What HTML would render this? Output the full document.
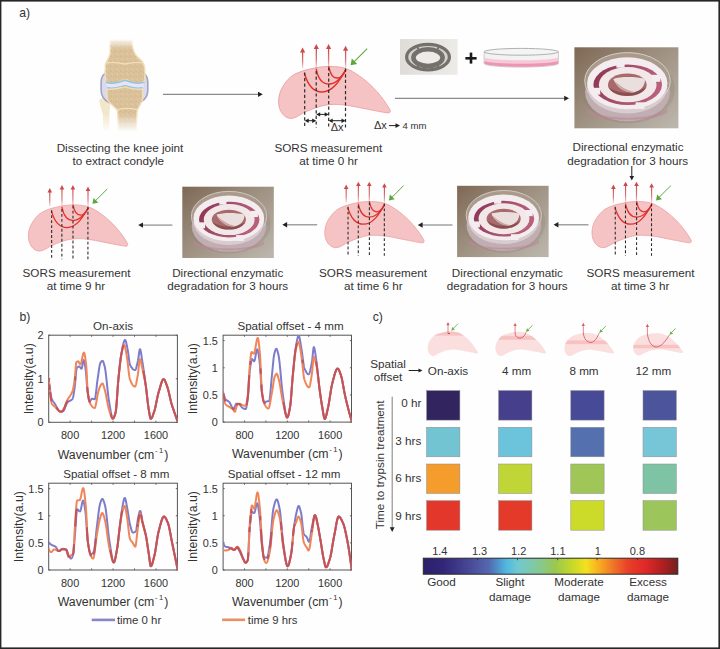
<!DOCTYPE html>
<html><head><meta charset="utf-8"><style>html,body{margin:0;padding:0;background:#fff;width:720px;height:649px;overflow:hidden}</style></head>
<body>
<svg width="720" height="649" viewBox="0 0 720 649" style="position:absolute;left:0;top:0;font-family:'Liberation Sans', sans-serif">
<defs>
<linearGradient id="gshaft" x1="0" y1="0" x2="0" y2="1"><stop offset="0" stop-color="#c84a4c"/><stop offset="0.6" stop-color="#d05a5c" stop-opacity="0.8"/><stop offset="1" stop-color="#d86a6a" stop-opacity="0.25"/></linearGradient>
<linearGradient id="gphoto" x1="0" y1="0" x2="1" y2="0.9"><stop offset="0" stop-color="#7e6854"/><stop offset="0.45" stop-color="#9c8e7e"/><stop offset="1" stop-color="#bab4aa"/></linearGradient>
<linearGradient id="gring" x1="0" y1="0" x2="1" y2="0"><stop offset="0" stop-color="#e0ddd9"/><stop offset="1" stop-color="#ecebe8"/></linearGradient>
<linearGradient id="gcbar" x1="0" y1="0" x2="1" y2="0"><stop offset="0" stop-color="#2c1f6c"/><stop offset="0.08" stop-color="#322678"/><stop offset="0.18" stop-color="#484896"/><stop offset="0.257" stop-color="#5468b0"/><stop offset="0.292" stop-color="#5090c8"/><stop offset="0.326" stop-color="#50b8e0"/><stop offset="0.37" stop-color="#70c8d0"/><stop offset="0.419" stop-color="#7cc8b0"/><stop offset="0.468" stop-color="#8ac888"/><stop offset="0.517" stop-color="#98c850"/><stop offset="0.586" stop-color="#c8d828"/><stop offset="0.64" stop-color="#f4e020"/><stop offset="0.688" stop-color="#f8b020"/><stop offset="0.743" stop-color="#f07828"/><stop offset="0.804" stop-color="#e84028"/><stop offset="0.872" stop-color="#e02828"/><stop offset="0.94" stop-color="#b02020"/><stop offset="1" stop-color="#742020"/></linearGradient>
<linearGradient id="ggap" x1="0" y1="0" x2="1" y2="0.3"><stop offset="0" stop-color="#8a3250"/><stop offset="0.5" stop-color="#a44e6a"/><stop offset="1" stop-color="#b8607a"/></linearGradient>
<pattern id="speck" width="5" height="5" patternUnits="userSpaceOnUse"><circle cx="1" cy="1.2" r="0.6" fill="#c4a478" opacity="0.7"/><circle cx="3.6" cy="2.4" r="0.5" fill="#c8aa7e" opacity="0.6"/><circle cx="2.2" cy="4.1" r="0.55" fill="#e8d2aa" opacity="0.8"/><circle cx="4.4" cy="4.6" r="0.4" fill="#c4a478" opacity="0.5"/></pattern>
<g id="photo">
<rect x="0" y="0" width="104" height="81" fill="url(#gphoto)"/>
<ellipse cx="53.5" cy="42" rx="47" ry="34" fill="#8f8070" opacity="0.3"/>
<ellipse cx="53.1" cy="45" rx="42.4" ry="29" fill="#c0aeb2"/>
<path d="M13,61 A41,12 0 0 0 93,61 L93,65 A41,9.5 0 0 1 13,65 Z" fill="#c0849a" opacity="0.6"/>
<ellipse cx="53.1" cy="33.5" rx="42.8" ry="28.2" fill="#a99a8c" stroke="#d6cec8" stroke-width="1"/>
<ellipse cx="52.85" cy="40" rx="40" ry="26.2" fill="#d8ccd0"/>
<ellipse cx="52.85" cy="36" rx="40.15" ry="26" fill="#f4edef"/>
<ellipse cx="53.3" cy="37.4" rx="34.3" ry="20.3" fill="url(#ggap)"/>
<ellipse cx="53.3" cy="37.4" rx="28.9" ry="17.6" fill="#f2e8ea"/>
<ellipse cx="52.9" cy="37.4" rx="19.4" ry="11.3" fill="#a86a6a"/>
<path d="M34,40 C38,46 46,48.7 53,48.7 C61,48.7 68,46 72,40 C66,43.5 60,45.5 53,45.5 C46,45.5 39,43.5 34,40 Z" fill="#7a3a3c" opacity="0.6"/>
<path d="M38.9,31.6 C46,29.2 61,29.2 70.5,31.5 C71.2,37.5 67,43.5 59,45.1 C50,45.5 42,39.5 38.9,31.6 Z" fill="#ebdfdd"/>
<path d="M40.5,34 C46,39 52,43.2 59.5,44.5 C53,46.3 45,42 40.5,34 Z" fill="#c6a4a4"/>
<rect x="42" y="13.2" width="8.2" height="7.2" fill="#f4edef"/>
<rect x="77.5" y="27.5" width="8.4" height="7" fill="#f4edef"/>
<rect x="17.5" y="40.5" width="8.4" height="6.8" fill="#f4edef"/>
<rect x="61.2" y="55" width="8.8" height="6.6" fill="#f4edef"/>
</g>
</defs>
<rect x="0" y="0" width="720" height="649" fill="#fefefe"/>
<text x="19.2" y="16.8" font-size="12.2" text-anchor="start" fill="#333" >a)</text>
<text x="19.4" y="320.5" font-size="12.2" text-anchor="start" fill="#333" >b)</text>
<text x="372.7" y="320.6" font-size="12.2" text-anchor="start" fill="#333" >c)</text>
<g id="knee">
<defs><linearGradient id="gfade" x1="0" y1="0" x2="0" y2="1"><stop offset="0" stop-color="#fefefe" stop-opacity="1"/><stop offset="1" stop-color="#fefefe" stop-opacity="0"/></linearGradient><linearGradient id="gfade2" x1="0" y1="0" x2="0" y2="1"><stop offset="0" stop-color="#fefefe" stop-opacity="0"/><stop offset="1" stop-color="#fefefe" stop-opacity="1"/></linearGradient></defs>
<path d="M99.2,99.7 C101,98 107,97.5 110.6,99 L109.3,115 L109.3,131 L103.1,131 L103.1,115 C101,108 99.2,103 99.2,99.7 Z" fill="#f3e7cb"/>
<path d="M109,72.7 L140,72.7 C145.5,72.7 147.8,77 147.8,82 L147.8,90 C147.8,95.5 145.5,99 142,101 L109,102.5 C104,100 101.1,96 101.1,90 L101.1,82 C101.1,77 103.5,72.7 109,72.7 Z" fill="#d9d9f0" stroke="#a2a4bc" stroke-width="1.6"/>
<path d="M110.2,40 L132,40 C132,47 133,51.5 136,55.5 C139,59 142.8,61 144,65 C145.2,70 145.2,76 144.6,81.5 C140,83.5 134,83 130,81.5 C128,80 126.5,79.5 125,79.8 C123,80.2 120,81.5 116,82.8 C112,84 108,83.5 105.8,81.5 C105,75 105,69 105.4,64.5 C106.5,61 109.5,58 110.2,53 Z" fill="#dbc29a" stroke="#f1dfba" stroke-width="1.5"/>
<path d="M110.2,40 L132,40 C132,47 133,51.5 136,55.5 C139,59 142.8,61 144,65 C145.2,70 145.2,76 144.6,81.5 C140,83.5 134,83 130,81.5 C128,80 126.5,79.5 125,79.8 C123,80.2 120,81.5 116,82.8 C112,84 108,83.5 105.8,81.5 C105,75 105,69 105.4,64.5 C106.5,61 109.5,58 110.2,53 Z" fill="url(#speck)"/>
<path d="M106.5,63 C113,61.5 119,62.5 125,64 C131,62.5 137,61.8 143,62.8" fill="none" stroke="#f1deb8" stroke-width="1.3"/>
<path d="M105.8,82 C112,84 118,82.5 125,80 C132,82.5 138,84 144.6,82 L143,88.5 C138,89.3 132,88.6 128,87.2 C126,86.4 124,86.4 122,87.2 C118,88.6 112,89.3 107,88.5 Z" fill="#e6e4f6"/>
<path d="M105.8,82.3 C112,84.3 118,82.8 125,80.3 C132,82.8 138,84.3 144.6,82.3" fill="none" stroke="#96c4d4" stroke-width="1.6"/>
<path d="M107,88 C112,88.6 118,88 122,86.6 C124,85.8 126,85.8 128,86.6 C132,88 138,88.6 142.5,88" fill="none" stroke="#96c4d4" stroke-width="1.8"/>
<path d="M107,89 C112,89.5 118,88.6 122,87.6 C124,86.8 126,86.8 128,87.6 C132,89 138,89.5 142.5,89 C143,94 142.8,97 142.4,100 C141,104 138.5,107 137,110.5 L136.2,131 L118.5,131 L117.6,110.5 C115,107 109,103 107.5,99.7 C107,96 106.8,92 107,89 Z" fill="#dbc29a" stroke="#f1dfba" stroke-width="1.5"/>
<path d="M107,89 C112,89.5 118,88.6 122,87.6 C124,86.8 126,86.8 128,87.6 C132,89 138,89.5 142.5,89 C143,94 142.8,97 142.4,100 C141,104 138.5,107 137,110.5 L136.2,131 L118.5,131 L117.6,110.5 C115,107 109,103 107.5,99.7 C107,96 106.8,92 107,89 Z" fill="url(#speck)"/>
<path d="M117.8,109.6 C123,108.2 131,108.2 136.8,109.6" fill="none" stroke="#f1deb8" stroke-width="1.3"/>
<rect x="95" y="38" width="55" height="11" fill="url(#gfade)"/>
<rect x="95" y="114" width="55" height="18" fill="url(#gfade2)"/>
</g>
<line x1="163" y1="94.3" x2="258.96000000000004" y2="94.3" stroke="#8a8a8a" stroke-width="1.2"/>
<path d="M262.8,94.3 L258.0,91.7 L258.0,96.89999999999999 Z" fill="#222"/>
<g id="sors">
<path d="M278.6,103 C278.2,95 281,86 290.6,77 C297,72 306,69.5 319.5,67.1 C330,65.8 340,66.4 346.6,68.8 C354,71.6 364,78.5 373,87.4 C379,93.5 385,101 389.8,109.4 C391,111.6 390,113.2 387.8,112.9 C382,112.2 376,110.8 368,109.3 C361,108 355,106.5 350,105.8 C343,104.8 338,104.2 333,104.4 C326,104.8 322,105.6 317.8,107.1 C312,109 308,110.8 304.2,112.5 C299,115 295.5,118.6 290.5,118.4 C284,118 279,111 278.6,103 Z" fill="#f5c3c3" stroke="#eba0a2" stroke-width="0.9"/>
<g fill="none" stroke="#e0302c" stroke-width="1.4" stroke-linecap="round">
<path d="M304.5,73.5 C308,86 314,92 322,92 C333,92 340,80 345.6,70.2"/>
<path d="M316.3,69.3 C318,78 322,84 329,84 C337,84 342,76 345.6,70.2"/>
<path d="M328.8,66.8 C330,73 333,78 337,78 C341,78 344,74 345.6,70.2"/>
</g>
<g stroke="#2a2a2a" stroke-width="1.2" stroke-dasharray="3.2,2.4">
<line x1="304.7" y1="72.4" x2="304.7" y2="127.5"/>
<line x1="316.2" y1="71" x2="316.2" y2="127.5"/>
<line x1="328.7" y1="67.4" x2="328.7" y2="127.5"/>
<line x1="345.5" y1="68.6" x2="345.5" y2="127.5"/>
</g>
<rect x="301.95000000000005" y="51.9" width="1.3" height="16.1" fill="url(#gshaft)"/>
<path d="M302.6,47.4 L305.20000000000005,52.4 L300.0,52.4 Z" fill="#cc4a4c"/>
<rect x="315.65000000000003" y="48.6" width="1.3" height="19.4" fill="url(#gshaft)"/>
<path d="M316.3,44.1 L318.90000000000003,49.1 L313.7,49.1 Z" fill="#cc4a4c"/>
<rect x="327.95000000000005" y="48.6" width="1.3" height="19.4" fill="url(#gshaft)"/>
<path d="M328.6,44.1 L331.20000000000005,49.1 L326.0,49.1 Z" fill="#cc4a4c"/>
<rect x="344.95000000000005" y="50.3" width="1.3" height="17.700000000000003" fill="url(#gshaft)"/>
<path d="M345.6,45.8 L348.20000000000005,50.8 L343.0,50.8 Z" fill="#cc4a4c"/>
<line x1="367.2" y1="48.6" x2="354.2" y2="61.6" stroke="#5aa83c" stroke-width="1.1"/>
<path d="M350.6,65.2 L351.8,58.6 L357.2,64 Z" fill="#5aa83c"/>
</g>
<line x1="306.7" y1="120.7" x2="314.2" y2="120.7" stroke="#222" stroke-width="1"/>
<path d="M304.7,120.7 L308.7,118.5 L308.7,122.9 Z" fill="#222"/>
<path d="M316.2,120.7 L312.2,118.5 L312.2,122.9 Z" fill="#222"/>
<line x1="318.2" y1="114.4" x2="326.7" y2="114.4" stroke="#222" stroke-width="1"/>
<path d="M316.2,114.4 L320.2,112.2 L320.2,116.60000000000001 Z" fill="#222"/>
<path d="M328.7,114.4 L324.7,112.2 L324.7,116.60000000000001 Z" fill="#222"/>
<line x1="330.7" y1="120.7" x2="343.5" y2="120.7" stroke="#222" stroke-width="1"/>
<path d="M328.7,120.7 L332.7,118.5 L332.7,122.9 Z" fill="#222"/>
<path d="M345.5,120.7 L341.5,118.5 L341.5,122.9 Z" fill="#222"/>
<text x="337.2" y="131" font-size="11" text-anchor="middle" fill="#333" >Δx</text>
<text x="374" y="128.5" font-size="11" text-anchor="start" fill="#333" >Δx</text>
<line x1="389" y1="125.6" x2="396.4" y2="125.6" stroke="#222" stroke-width="1"/>
<path d="M400,125.6 L395.5,123.3 L395.5,127.89999999999999 Z" fill="#222"/>
<text x="402.4" y="128.5" font-size="9.6" text-anchor="start" fill="#333" >4 mm</text>
<rect x="400" y="39" width="57.5" height="35.8" fill="url(#gring)"/>
<ellipse cx="428" cy="57.1" rx="23" ry="14.2" fill="#d4d1cc"/>
<ellipse cx="428" cy="57.1" rx="21.4" ry="12.7" fill="none" stroke="#74716c" stroke-width="3.2"/>
<ellipse cx="428" cy="57.6" rx="14.6" ry="8.4" fill="#ecebe8" stroke="#74716c" stroke-width="4.6"/>
<path d="M418,47.2 L418,49.5 M438,47.2 L438,49.5 M418,65 L418,67.4 M438,65 L438,67.4" stroke="#74716c" stroke-width="2"/>
<rect x="465.4" y="57" width="11.2" height="2.6" fill="#1a1a1a"/>
<rect x="469.7" y="52.6" width="2.6" height="11" fill="#1a1a1a"/>
<path d="M484.1,51.8 L484.1,63.5 A37.1,3.6 0 0 0 558.4,63.5 L558.4,51.8 Z" fill="#f2f2f2" stroke="#b8b8b8" stroke-width="0.7"/>
<path d="M484.4,57.5 A37,3 0 0 0 558.1,57.5 L558.1,63.5 A37,3.6 0 0 1 484.4,63.5 Z" fill="#f7c8d8"/>
<path d="M484.4,61 A37,3 0 0 0 558.1,61 L558.1,63.5 A37,3.6 0 0 1 484.4,63.5 Z" fill="#ec94b4"/>
<ellipse cx="521.2" cy="51.8" rx="37.1" ry="3.4" fill="#f4f4f4" stroke="#a8a8a8" stroke-width="0.9"/>
<line x1="395" y1="98.3" x2="565.16" y2="98.3" stroke="#8a8a8a" stroke-width="1.2"/>
<path d="M569,98.3 L564.2,95.7 L564.2,100.89999999999999 Z" fill="#222"/>
<use href="#photo" transform="translate(574.4,47.3)"/>
<use href="#photo" transform="translate(182.3,186.7) scale(0.88)"/>
<use href="#photo" transform="translate(457.1,185.8) scale(0.88)"/>
<text x="120" y="152" font-size="11.7" text-anchor="middle" fill="#333" >Dissecting the knee joint</text>
<text x="118.2" y="165.3" font-size="11.7" text-anchor="middle" fill="#333" >to extract condyle</text>
<text x="328.3" y="152" font-size="11.7" text-anchor="middle" fill="#333" >SORS measurement</text>
<text x="328.6" y="165.3" font-size="11.7" text-anchor="middle" fill="#333" >at time 0 hr</text>
<text x="628" y="151.4" font-size="11.7" text-anchor="middle" fill="#333" >Directional enzymatic</text>
<text x="627.8" y="164.7" font-size="11.7" text-anchor="middle" fill="#333" >degradation for 3 hours</text>
<line x1="631.8" y1="166" x2="631.8" y2="176.9" stroke="#222" stroke-width="1"/>
<path d="M631.8,180.5 L629.5,176.0 L634.0999999999999,176.0 Z" fill="#222"/>
<use href="#sors" transform="translate(344.37,142.43) scale(0.889)"/>
<use href="#sors" transform="translate(77.17,142.43) scale(0.889)"/>
<use href="#sors" transform="translate(-219.23,145.83) scale(0.889)"/>
<line x1="588.5" y1="224.8" x2="557.44" y2="224.8" stroke="#8a8a8a" stroke-width="1.2"/>
<path d="M553.6,224.8 L558.4,222.10000000000002 L558.4,227.5 Z" fill="#222"/>
<line x1="452.5" y1="225.0" x2="421.64" y2="225.0" stroke="#8a8a8a" stroke-width="1.2"/>
<path d="M417.8,225.0 L422.6,222.3 L422.6,227.7 Z" fill="#222"/>
<line x1="317.2" y1="224.8" x2="286.14" y2="224.8" stroke="#8a8a8a" stroke-width="1.2"/>
<path d="M282.3,224.8 L287.1,222.10000000000002 L287.1,227.5 Z" fill="#222"/>
<line x1="172.4" y1="225.1" x2="142.04" y2="225.1" stroke="#8a8a8a" stroke-width="1.2"/>
<path d="M138.2,225.1 L143.0,222.4 L143.0,227.79999999999998 Z" fill="#222"/>
<text x="76.5" y="276.5" font-size="11.7" text-anchor="middle" fill="#333" >SORS measurement</text>
<text x="76" y="289.6" font-size="11.7" text-anchor="middle" fill="#333" >at time 9 hr</text>
<text x="227.7" y="276.5" font-size="11.7" text-anchor="middle" fill="#333" >Directional enzymatic</text>
<text x="227.7" y="289.6" font-size="11.7" text-anchor="middle" fill="#333" >degradation for 3 hours</text>
<text x="373" y="276.5" font-size="11.7" text-anchor="middle" fill="#333" >SORS measurement</text>
<text x="373.3" y="289.6" font-size="11.7" text-anchor="middle" fill="#333" >at time 6 hr</text>
<text x="507.4" y="276.5" font-size="11.7" text-anchor="middle" fill="#333" >Directional enzymatic</text>
<text x="507.2" y="289.6" font-size="11.7" text-anchor="middle" fill="#333" >degradation for 3 hours</text>
<text x="640.5" y="276.5" font-size="11.7" text-anchor="middle" fill="#333" >SORS measurement</text>
<text x="640.2" y="289.6" font-size="11.7" text-anchor="middle" fill="#333" >at time 3 hr</text>
<rect x="48.7" y="335.2" width="128.7" height="87.10000000000002" fill="none" stroke="#555" stroke-width="1"/>
<line x1="70.15" y1="422.3" x2="70.15" y2="420.7" stroke="#555" stroke-width="0.9"/>
<line x1="70.15" y1="335.2" x2="70.15" y2="336.8" stroke="#555" stroke-width="0.9"/>
<line x1="91.60" y1="422.3" x2="91.60" y2="420.7" stroke="#555" stroke-width="0.9"/>
<line x1="91.60" y1="335.2" x2="91.60" y2="336.8" stroke="#555" stroke-width="0.9"/>
<line x1="113.05" y1="422.3" x2="113.05" y2="420.7" stroke="#555" stroke-width="0.9"/>
<line x1="113.05" y1="335.2" x2="113.05" y2="336.8" stroke="#555" stroke-width="0.9"/>
<line x1="134.50" y1="422.3" x2="134.50" y2="420.7" stroke="#555" stroke-width="0.9"/>
<line x1="134.50" y1="335.2" x2="134.50" y2="336.8" stroke="#555" stroke-width="0.9"/>
<line x1="155.95" y1="422.3" x2="155.95" y2="420.7" stroke="#555" stroke-width="0.9"/>
<line x1="155.95" y1="335.2" x2="155.95" y2="336.8" stroke="#555" stroke-width="0.9"/>
<line x1="48.7" y1="422.30" x2="50.300000000000004" y2="422.30" stroke="#555" stroke-width="0.9"/>
<line x1="177.4" y1="422.30" x2="175.8" y2="422.30" stroke="#555" stroke-width="0.9"/>
<text x="43.5" y="426.2" font-size="10.9" text-anchor="end" fill="#333" >0</text>
<line x1="48.7" y1="378.75" x2="50.300000000000004" y2="378.75" stroke="#555" stroke-width="0.9"/>
<line x1="177.4" y1="378.75" x2="175.8" y2="378.75" stroke="#555" stroke-width="0.9"/>
<text x="43.5" y="382.65" font-size="10.9" text-anchor="end" fill="#333" >1</text>
<line x1="48.7" y1="335.20" x2="50.300000000000004" y2="335.20" stroke="#555" stroke-width="0.9"/>
<line x1="177.4" y1="335.20" x2="175.8" y2="335.20" stroke="#555" stroke-width="0.9"/>
<text x="43.5" y="339.09999999999997" font-size="10.9" text-anchor="end" fill="#333" >2</text>
<text x="70.15" y="439.0" font-size="10.9" text-anchor="middle" fill="#333" >800</text>
<text x="113.05" y="439.0" font-size="10.9" text-anchor="middle" fill="#333" >1200</text>
<text x="155.95" y="439.0" font-size="10.9" text-anchor="middle" fill="#333" >1600</text>
<text x="113.05" y="330.3" font-size="11.6" text-anchor="middle" fill="#333" >On-axis</text>
<text x="113.05" y="458.50" font-size="12.3" text-anchor="middle" fill="#333">Wavenumber (cm<tspan font-size="7.6" dy="-6" dx="0.6">-</tspan><tspan font-size="7.6" dx="1.6">1</tspan><tspan dy="6" dx="1">)</tspan></text>
<text x="0" y="0" font-size="12.3" text-anchor="middle" fill="#333" transform="translate(33.40,378.75) rotate(-90)">Intensity(a.u)</text>
<clipPath id="c48335"><rect x="48.7" y="335.2" width="128.7" height="87.10000000000002"/></clipPath>
<g clip-path="url(#c48335)" fill="none" stroke-width="2" stroke-linejoin="round" stroke-linecap="round">
<path d="M48.70,378.75 L48.91,380.65 L49.13,382.50 L49.34,384.30 L49.56,386.05 L49.77,387.73 L49.99,389.33 L50.20,390.85 L50.42,392.28 L50.63,393.61 L50.84,394.83 L51.06,395.94 L51.27,396.92 L51.49,397.77 L51.70,398.48 L51.92,399.06 L52.13,399.56 L52.35,400.02 L52.56,400.44 L52.78,400.82 L52.99,401.17 L53.20,401.50 L53.42,401.80 L53.63,402.10 L53.85,402.38 L54.06,402.67 L54.28,402.96 L54.49,403.26 L54.71,403.57 L54.92,403.91 L55.14,404.26 L55.35,404.62 L55.56,405.00 L55.78,405.38 L55.99,405.77 L56.21,406.16 L56.42,406.56 L56.64,406.95 L56.85,407.34 L57.07,407.73 L57.28,408.11 L57.49,408.48 L57.71,408.84 L57.92,409.19 L58.14,409.51 L58.35,409.82 L58.57,410.11 L58.78,410.38 L59.00,410.62 L59.21,410.83 L59.42,411.02 L59.64,411.17 L59.85,411.29 L60.07,411.37 L60.28,411.41 L60.50,411.41 L60.71,411.41 L60.93,411.41 L61.14,411.41 L61.36,411.41 L61.57,411.41 L61.78,411.41 L62.00,411.41 L62.21,411.41 L62.43,411.41 L62.64,411.41 L62.86,411.37 L63.07,411.25 L63.29,411.06 L63.50,410.80 L63.72,410.49 L63.93,410.12 L64.14,409.71 L64.36,409.26 L64.57,408.78 L64.79,408.27 L65.00,407.74 L65.22,407.20 L65.43,406.65 L65.65,406.10 L65.86,405.56 L66.07,405.04 L66.29,404.53 L66.50,404.05 L66.72,403.60 L66.93,403.19 L67.15,402.83 L67.36,402.52 L67.58,402.27 L67.79,402.06 L68.00,401.87 L68.22,401.71 L68.43,401.56 L68.65,401.42 L68.86,401.30 L69.08,401.19 L69.29,401.09 L69.51,400.99 L69.72,400.89 L69.94,400.80 L70.15,400.70 L70.36,400.59 L70.58,400.48 L70.79,400.36 L71.01,400.23 L71.22,400.09 L71.44,399.93 L71.65,399.75 L71.87,399.54 L72.08,399.32 L72.30,399.06 L72.51,398.78 L72.72,398.36 L72.94,397.69 L73.15,396.81 L73.37,395.75 L73.58,394.55 L73.80,393.22 L74.01,391.80 L74.23,390.33 L74.44,388.83 L74.65,387.33 L74.87,385.79 L75.08,383.82 L75.30,381.50 L75.51,378.97 L75.73,376.38 L75.94,373.89 L76.16,371.64 L76.37,369.79 L76.59,368.48 L76.80,367.86 L77.01,367.65 L77.23,367.46 L77.44,367.28 L77.66,367.12 L77.87,366.98 L78.09,366.86 L78.30,366.76 L78.52,366.68 L78.73,366.62 L78.94,366.58 L79.16,366.56 L79.37,366.57 L79.59,366.68 L79.80,366.87 L80.02,367.12 L80.23,367.41 L80.45,367.72 L80.66,368.03 L80.88,368.30 L81.09,368.53 L81.30,368.68 L81.52,368.73 L81.73,368.46 L81.95,367.74 L82.16,366.68 L82.38,365.40 L82.59,364.04 L82.81,362.70 L83.02,361.52 L83.23,360.61 L83.45,360.09 L83.66,360.06 L83.88,360.36 L84.09,360.92 L84.31,361.70 L84.52,362.68 L84.74,363.83 L84.95,365.09 L85.16,366.46 L85.38,367.88 L85.59,369.32 L85.81,370.84 L86.02,372.90 L86.24,375.43 L86.45,378.26 L86.67,381.25 L86.88,384.23 L87.10,387.03 L87.31,389.51 L87.52,391.49 L87.74,392.92 L87.95,394.26 L88.17,395.56 L88.38,396.80 L88.60,397.94 L88.81,398.94 L89.03,399.77 L89.24,400.41 L89.45,400.82 L89.67,400.96 L89.88,400.91 L90.10,400.79 L90.31,400.59 L90.53,400.35 L90.74,400.08 L90.96,399.80 L91.17,399.52 L91.39,399.27 L91.60,399.05 L91.81,398.88 L92.03,398.79 L92.24,398.79 L92.46,398.80 L92.67,398.83 L92.89,398.87 L93.10,398.92 L93.32,398.97 L93.53,399.03 L93.75,399.08 L93.96,399.13 L94.17,399.17 L94.39,399.20 L94.60,399.22 L94.82,399.16 L95.03,398.73 L95.25,397.92 L95.46,396.78 L95.68,395.37 L95.89,393.74 L96.10,391.94 L96.32,390.03 L96.53,388.06 L96.75,386.08 L96.96,384.15 L97.18,382.32 L97.39,380.65 L97.61,379.19 L97.82,377.80 L98.03,376.33 L98.25,374.82 L98.46,373.28 L98.68,371.75 L98.89,370.25 L99.11,368.81 L99.32,367.45 L99.54,366.20 L99.75,365.08 L99.97,364.13 L100.18,363.37 L100.39,362.82 L100.61,362.49 L100.82,362.19 L101.04,361.92 L101.25,361.67 L101.47,361.45 L101.68,361.26 L101.90,361.11 L102.11,360.99 L102.33,360.92 L102.54,360.89 L102.75,360.98 L102.97,361.23 L103.18,361.61 L103.40,362.11 L103.61,362.72 L103.83,363.40 L104.04,364.15 L104.26,364.93 L104.47,365.74 L104.68,366.56 L104.90,367.47 L105.11,368.60 L105.33,369.92 L105.54,371.41 L105.76,373.04 L105.97,374.81 L106.19,376.67 L106.40,378.62 L106.62,380.64 L106.83,382.69 L107.04,384.77 L107.26,386.85 L107.47,388.91 L107.69,390.92 L107.90,392.87 L108.12,394.74 L108.33,396.51 L108.55,398.15 L108.76,399.64 L108.97,400.96 L109.19,402.22 L109.40,403.51 L109.62,404.82 L109.83,406.14 L110.05,407.46 L110.26,408.76 L110.48,410.04 L110.69,411.27 L110.91,412.44 L111.12,413.55 L111.33,414.58 L111.55,415.51 L111.76,416.33 L111.98,417.03 L112.19,417.60 L112.41,418.03 L112.62,418.29 L112.84,418.38 L113.05,418.33 L113.26,418.20 L113.48,417.98 L113.69,417.68 L113.91,417.30 L114.12,416.86 L114.34,416.35 L114.55,415.79 L114.77,415.17 L114.98,414.51 L115.20,413.80 L115.41,413.06 L115.62,412.28 L115.84,411.21 L116.05,409.63 L116.27,407.61 L116.48,405.21 L116.70,402.52 L116.91,399.61 L117.13,396.54 L117.34,393.39 L117.55,390.24 L117.77,387.15 L117.98,384.19 L118.20,381.45 L118.41,378.98 L118.63,376.82 L118.84,374.70 L119.06,372.59 L119.27,370.50 L119.48,368.45 L119.70,366.44 L119.91,364.48 L120.13,362.60 L120.34,360.80 L120.56,359.10 L120.77,357.50 L120.99,356.03 L121.20,354.69 L121.42,353.49 L121.63,352.36 L121.84,351.23 L122.06,350.10 L122.27,348.98 L122.49,347.88 L122.70,346.82 L122.92,345.80 L123.13,344.82 L123.35,343.91 L123.56,343.07 L123.78,342.31 L123.99,341.64 L124.20,341.08 L124.42,340.62 L124.63,340.27 L124.85,340.06 L125.06,339.99 L125.28,340.10 L125.49,340.41 L125.71,340.90 L125.92,341.55 L126.13,342.33 L126.35,343.23 L126.56,344.22 L126.78,345.28 L126.99,346.39 L127.21,347.53 L127.42,348.67 L127.64,349.79 L127.85,350.88 L128.06,352.09 L128.28,353.55 L128.49,355.18 L128.71,356.90 L128.92,358.64 L129.14,360.31 L129.35,361.85 L129.57,363.16 L129.78,364.17 L130.00,364.81 L130.21,365.23 L130.42,365.63 L130.64,366.02 L130.85,366.39 L131.07,366.74 L131.28,367.08 L131.50,367.40 L131.71,367.70 L131.93,367.98 L132.14,368.25 L132.36,368.50 L132.57,368.73 L132.78,368.95 L133.00,369.14 L133.21,369.32 L133.43,369.48 L133.64,369.61 L133.86,369.73 L134.07,369.83 L134.29,369.92 L134.50,369.98 L134.71,370.02 L134.93,370.04 L135.14,370.02 L135.36,369.86 L135.57,369.55 L135.79,369.11 L136.00,368.56 L136.22,367.91 L136.43,367.17 L136.64,366.36 L136.86,365.49 L137.07,364.59 L137.29,363.67 L137.50,362.73 L137.72,361.80 L137.93,360.89 L138.15,359.82 L138.36,358.44 L138.58,356.87 L138.79,355.20 L139.00,353.55 L139.22,352.02 L139.43,350.72 L139.65,349.75 L139.86,349.21 L140.08,349.18 L140.29,349.56 L140.51,350.25 L140.72,351.20 L140.94,352.37 L141.15,353.70 L141.36,355.14 L141.58,356.63 L141.79,358.12 L142.01,359.56 L142.22,360.89 L142.44,362.17 L142.65,363.49 L142.87,364.84 L143.08,366.22 L143.29,367.63 L143.51,369.06 L143.72,370.52 L143.94,372.01 L144.15,373.52 L144.37,375.04 L144.58,376.58 L144.80,378.14 L145.01,379.71 L145.22,381.29 L145.44,382.88 L145.65,384.48 L145.87,386.10 L146.08,387.80 L146.30,389.59 L146.51,391.45 L146.73,393.35 L146.94,395.27 L147.16,397.19 L147.37,399.10 L147.58,400.97 L147.80,402.78 L148.01,404.51 L148.23,406.15 L148.44,407.66 L148.66,409.04 L148.87,410.29 L149.09,411.58 L149.30,412.89 L149.51,414.18 L149.73,415.40 L149.94,416.50 L150.16,417.45 L150.37,418.18 L150.59,418.65 L150.80,418.82 L151.02,418.77 L151.23,418.63 L151.45,418.41 L151.66,418.12 L151.87,417.75 L152.09,417.33 L152.30,416.85 L152.52,416.32 L152.73,415.76 L152.95,415.16 L153.16,414.53 L153.38,413.89 L153.59,413.24 L153.81,412.59 L154.02,411.93 L154.23,411.29 L154.45,410.65 L154.66,409.95 L154.88,409.17 L155.09,408.33 L155.31,407.42 L155.52,406.47 L155.74,405.48 L155.95,404.46 L156.16,403.41 L156.38,402.35 L156.59,401.27 L156.81,400.20 L157.02,399.14 L157.24,398.09 L157.45,397.07 L157.67,396.08 L157.88,395.13 L158.09,394.23 L158.31,393.39 L158.52,392.61 L158.74,391.90 L158.95,391.17 L159.17,390.44 L159.38,389.69 L159.60,388.93 L159.81,388.17 L160.03,387.42 L160.24,386.67 L160.45,385.93 L160.67,385.20 L160.88,384.50 L161.10,383.82 L161.31,383.17 L161.53,382.55 L161.74,381.97 L161.96,381.44 L162.17,380.94 L162.38,380.50 L162.60,380.12 L162.81,379.80 L163.03,379.54 L163.24,379.34 L163.46,379.23 L163.67,379.19 L163.89,379.23 L164.10,379.36 L164.32,379.57 L164.53,379.85 L164.74,380.20 L164.96,380.60 L165.17,381.06 L165.39,381.56 L165.60,382.09 L165.82,382.66 L166.03,383.25 L166.25,383.85 L166.46,384.47 L166.67,385.08 L166.89,385.70 L167.10,386.30 L167.32,386.89 L167.53,387.53 L167.75,388.23 L167.96,388.98 L168.18,389.78 L168.39,390.62 L168.61,391.49 L168.82,392.39 L169.03,393.31 L169.25,394.24 L169.46,395.19 L169.68,396.14 L169.89,397.09 L170.11,398.03 L170.32,398.96 L170.54,399.87 L170.75,400.75 L170.96,401.61 L171.18,402.43 L171.39,403.20 L171.61,403.94 L171.82,404.65 L172.04,405.35 L172.25,406.03 L172.47,406.70 L172.68,407.36 L172.90,408.01 L173.11,408.64 L173.32,409.27 L173.54,409.90 L173.75,410.52 L173.97,411.13 L174.18,411.74 L174.40,412.35 L174.61,412.95 L174.83,413.56 L175.04,414.17 L175.25,414.78 L175.47,415.39 L175.68,416.01 L175.90,416.64 L176.11,417.27 L176.33,417.89 L176.54,418.51 L176.76,419.14 L176.97,419.76 L177.19,420.37 L177.40,420.99" stroke="#7d7ccc"/>
<path d="M48.70,378.75 L48.91,381.22 L49.13,383.64 L49.34,385.99 L49.56,388.27 L49.77,390.46 L49.99,392.54 L50.20,394.49 L50.42,396.30 L50.63,397.96 L50.84,399.44 L51.06,400.74 L51.27,401.84 L51.49,402.71 L51.70,403.35 L51.92,403.77 L52.13,404.12 L52.35,404.43 L52.56,404.71 L52.78,404.96 L52.99,405.18 L53.20,405.38 L53.42,405.57 L53.63,405.74 L53.85,405.91 L54.06,406.08 L54.28,406.25 L54.49,406.43 L54.71,406.63 L54.92,406.83 L55.14,407.05 L55.35,407.27 L55.56,407.49 L55.78,407.73 L55.99,407.96 L56.21,408.20 L56.42,408.43 L56.64,408.67 L56.85,408.91 L57.07,409.14 L57.28,409.37 L57.49,409.60 L57.71,409.83 L57.92,410.04 L58.14,410.25 L58.35,410.45 L58.57,410.65 L58.78,410.83 L59.00,411.00 L59.21,411.16 L59.42,411.30 L59.64,411.43 L59.85,411.55 L60.07,411.64 L60.28,411.72 L60.50,411.78 L60.71,411.83 L60.93,411.85 L61.14,411.84 L61.36,411.78 L61.57,411.68 L61.78,411.53 L62.00,411.34 L62.21,411.10 L62.43,410.83 L62.64,410.52 L62.86,410.17 L63.07,409.80 L63.29,409.40 L63.50,408.97 L63.72,408.52 L63.93,408.05 L64.14,407.57 L64.36,407.07 L64.57,406.55 L64.79,406.03 L65.00,405.50 L65.22,404.97 L65.43,404.44 L65.65,403.90 L65.86,403.38 L66.07,402.85 L66.29,402.34 L66.50,401.84 L66.72,401.36 L66.93,400.89 L67.15,400.44 L67.36,400.02 L67.58,399.62 L67.79,399.24 L68.00,398.88 L68.22,398.54 L68.43,398.21 L68.65,397.89 L68.86,397.58 L69.08,397.27 L69.29,396.97 L69.51,396.66 L69.72,396.35 L69.94,396.04 L70.15,395.72 L70.36,395.39 L70.58,395.04 L70.79,394.68 L71.01,394.30 L71.22,393.89 L71.44,393.46 L71.65,393.01 L71.87,392.53 L72.08,392.01 L72.30,391.46 L72.51,390.87 L72.72,390.19 L72.94,389.40 L73.15,388.51 L73.37,387.51 L73.58,386.42 L73.80,385.24 L74.01,383.97 L74.23,382.63 L74.44,381.22 L74.65,379.74 L74.87,378.04 L75.08,375.64 L75.30,372.79 L75.51,369.78 L75.73,366.92 L75.94,364.50 L76.16,362.82 L76.37,362.17 L76.59,361.99 L76.80,361.82 L77.01,361.68 L77.23,361.56 L77.44,361.47 L77.66,361.40 L77.87,361.35 L78.09,361.33 L78.30,361.37 L78.52,361.55 L78.73,361.86 L78.94,362.25 L79.16,362.70 L79.37,363.15 L79.59,363.59 L79.80,363.96 L80.02,364.23 L80.23,364.37 L80.45,364.33 L80.66,364.06 L80.88,363.60 L81.09,362.97 L81.30,362.21 L81.52,361.33 L81.73,360.37 L81.95,359.36 L82.16,358.32 L82.38,357.29 L82.59,356.29 L82.81,355.36 L83.02,354.51 L83.23,353.79 L83.45,353.22 L83.66,352.82 L83.88,352.63 L84.09,352.69 L84.31,353.06 L84.52,353.70 L84.74,354.60 L84.95,355.72 L85.16,357.04 L85.38,358.53 L85.59,360.16 L85.81,361.90 L86.02,363.73 L86.24,365.65 L86.45,368.57 L86.67,372.55 L86.88,377.09 L87.10,381.68 L87.31,385.81 L87.52,388.96 L87.74,391.03 L87.95,392.92 L88.17,394.67 L88.38,396.29 L88.60,397.76 L88.81,399.06 L89.03,400.18 L89.24,401.11 L89.45,401.84 L89.67,402.36 L89.88,402.80 L90.10,403.23 L90.31,403.64 L90.53,404.03 L90.74,404.41 L90.96,404.77 L91.17,405.11 L91.39,405.43 L91.60,405.74 L91.81,406.02 L92.03,406.29 L92.24,406.54 L92.46,406.77 L92.67,406.98 L92.89,407.17 L93.10,407.34 L93.32,407.49 L93.53,407.62 L93.75,407.72 L93.96,407.81 L94.17,407.87 L94.39,407.91 L94.60,407.93 L94.82,407.86 L95.03,407.56 L95.25,407.06 L95.46,406.36 L95.68,405.51 L95.89,404.52 L96.10,403.42 L96.32,402.24 L96.53,401.00 L96.75,399.72 L96.96,398.44 L97.18,397.18 L97.39,395.97 L97.61,394.82 L97.82,393.77 L98.03,392.85 L98.25,392.06 L98.46,391.32 L98.68,390.57 L98.89,389.84 L99.11,389.12 L99.32,388.44 L99.54,387.80 L99.75,387.20 L99.97,386.66 L100.18,386.19 L100.39,385.80 L100.61,385.46 L100.82,385.13 L101.04,384.81 L101.25,384.51 L101.47,384.23 L101.68,383.99 L101.90,383.79 L102.11,383.64 L102.33,383.56 L102.54,383.55 L102.75,383.69 L102.97,384.01 L103.18,384.46 L103.40,385.03 L103.61,385.69 L103.83,386.41 L104.04,387.17 L104.26,387.93 L104.47,388.69 L104.68,389.41 L104.90,390.18 L105.11,391.03 L105.33,391.95 L105.54,392.93 L105.76,393.97 L105.97,395.04 L106.19,396.15 L106.40,397.29 L106.62,398.44 L106.83,399.59 L107.04,400.74 L107.26,401.88 L107.47,403.00 L107.69,404.09 L107.90,405.13 L108.12,406.13 L108.33,407.07 L108.55,407.94 L108.76,408.74 L108.97,409.45 L109.19,410.16 L109.40,410.88 L109.62,411.62 L109.83,412.35 L110.05,413.07 L110.26,413.79 L110.48,414.48 L110.69,415.15 L110.91,415.78 L111.12,416.37 L111.33,416.92 L111.55,417.41 L111.76,417.83 L111.98,418.19 L112.19,418.48 L112.41,418.68 L112.62,418.79 L112.84,418.81 L113.05,418.73 L113.26,418.57 L113.48,418.32 L113.69,417.99 L113.91,417.59 L114.12,417.13 L114.34,416.60 L114.55,416.02 L114.77,415.38 L114.98,414.70 L115.20,413.98 L115.41,413.23 L115.62,412.41 L115.84,411.17 L116.05,409.44 L116.27,407.30 L116.48,404.82 L116.70,402.07 L116.91,399.13 L117.13,396.06 L117.34,392.94 L117.55,389.84 L117.77,386.83 L117.98,383.98 L118.20,381.36 L118.41,379.05 L118.63,376.96 L118.84,374.87 L119.06,372.79 L119.27,370.74 L119.48,368.72 L119.70,366.75 L119.91,364.85 L120.13,363.03 L120.34,361.29 L120.56,359.66 L120.77,358.14 L120.99,356.75 L121.20,355.50 L121.42,354.39 L121.63,353.31 L121.84,352.21 L122.06,351.14 L122.27,350.09 L122.49,349.09 L122.70,348.15 L122.92,347.30 L123.13,346.54 L123.35,345.90 L123.56,345.38 L123.78,345.02 L123.99,344.82 L124.20,344.80 L124.42,345.01 L124.63,345.45 L124.85,346.08 L125.06,346.87 L125.28,347.82 L125.49,348.89 L125.71,350.05 L125.92,351.29 L126.13,352.58 L126.35,353.89 L126.56,355.20 L126.78,356.49 L126.99,357.73 L127.21,359.03 L127.42,360.56 L127.64,362.26 L127.85,364.09 L128.06,366.01 L128.28,367.96 L128.49,369.91 L128.71,371.80 L128.92,373.59 L129.14,375.23 L129.35,376.67 L129.57,377.88 L129.78,378.80 L130.00,379.42 L130.21,379.96 L130.42,380.49 L130.64,381.01 L130.85,381.50 L131.07,381.98 L131.28,382.44 L131.50,382.88 L131.71,383.30 L131.93,383.69 L132.14,384.07 L132.36,384.42 L132.57,384.75 L132.78,385.06 L133.00,385.33 L133.21,385.59 L133.43,385.81 L133.64,386.01 L133.86,386.18 L134.07,386.33 L134.29,386.44 L134.50,386.52 L134.71,386.57 L134.93,386.59 L135.14,386.50 L135.36,386.20 L135.57,385.74 L135.79,385.11 L136.00,384.34 L136.22,383.45 L136.43,382.46 L136.64,381.39 L136.86,380.25 L137.07,379.07 L137.29,377.87 L137.50,376.66 L137.72,375.46 L137.93,374.24 L138.15,372.62 L138.36,370.65 L138.58,368.47 L138.79,366.24 L139.00,364.09 L139.22,362.16 L139.43,360.60 L139.65,359.55 L139.86,359.15 L140.08,359.27 L140.29,359.60 L140.51,360.14 L140.72,360.84 L140.94,361.68 L141.15,362.63 L141.36,363.67 L141.58,364.76 L141.79,365.88 L142.01,366.99 L142.22,368.08 L142.44,369.11 L142.65,370.06 L142.87,371.02 L143.08,372.01 L143.29,373.01 L143.51,374.03 L143.72,375.07 L143.94,376.13 L144.15,377.21 L144.37,378.31 L144.58,379.43 L144.80,380.56 L145.01,381.72 L145.22,382.89 L145.44,384.08 L145.65,385.28 L145.87,386.10 L146.08,387.80 L146.30,389.59 L146.51,391.45 L146.73,393.35 L146.94,395.27 L147.16,397.19 L147.37,399.10 L147.58,400.97 L147.80,402.78 L148.01,404.51 L148.23,406.15 L148.44,407.66 L148.66,409.04 L148.87,410.29 L149.09,411.58 L149.30,412.89 L149.51,414.18 L149.73,415.40 L149.94,416.50 L150.16,417.45 L150.37,418.18 L150.59,418.65 L150.80,418.82 L151.02,418.77 L151.23,418.63 L151.45,418.41 L151.66,418.12 L151.87,417.75 L152.09,417.33 L152.30,416.85 L152.52,416.32 L152.73,415.76 L152.95,415.16 L153.16,414.53 L153.38,413.89 L153.59,413.24 L153.81,412.59 L154.02,411.93 L154.23,411.29 L154.45,410.65 L154.66,409.95 L154.88,409.17 L155.09,408.33 L155.31,407.42 L155.52,406.47 L155.74,405.48 L155.95,404.46 L156.16,403.41 L156.38,402.35 L156.59,401.27 L156.81,400.20 L157.02,399.14 L157.24,398.09 L157.45,397.07 L157.67,396.08 L157.88,395.13 L158.09,394.23 L158.31,393.39 L158.52,392.61 L158.74,391.90 L158.95,391.17 L159.17,390.44 L159.38,389.69 L159.60,388.93 L159.81,388.17 L160.03,387.42 L160.24,386.67 L160.45,385.93 L160.67,385.20 L160.88,384.50 L161.10,383.82 L161.31,383.17 L161.53,382.55 L161.74,381.97 L161.96,381.44 L162.17,380.94 L162.38,380.50 L162.60,380.12 L162.81,379.80 L163.03,379.54 L163.24,379.34 L163.46,379.23 L163.67,379.19 L163.89,379.23 L164.10,379.36 L164.32,379.57 L164.53,379.85 L164.74,380.20 L164.96,380.60 L165.17,381.06 L165.39,381.56 L165.60,382.09 L165.82,382.66 L166.03,383.25 L166.25,383.85 L166.46,384.47 L166.67,385.08 L166.89,385.70 L167.10,386.30 L167.32,386.89 L167.53,387.53 L167.75,388.23 L167.96,388.98 L168.18,389.78 L168.39,390.62 L168.61,391.49 L168.82,392.39 L169.03,393.31 L169.25,394.24 L169.46,395.19 L169.68,396.14 L169.89,397.09 L170.11,398.03 L170.32,398.96 L170.54,399.87 L170.75,400.75 L170.96,401.61 L171.18,402.43 L171.39,403.20 L171.61,403.94 L171.82,404.65 L172.04,405.35 L172.25,406.03 L172.47,406.70 L172.68,407.36 L172.90,408.01 L173.11,408.64 L173.32,409.27 L173.54,409.90 L173.75,410.52 L173.97,411.13 L174.18,411.74 L174.40,412.35 L174.61,412.95 L174.83,413.56 L175.04,414.17 L175.25,414.78 L175.47,415.39 L175.68,416.01 L175.90,416.64 L176.11,417.27 L176.33,417.89 L176.54,418.51 L176.76,419.14 L176.97,419.76 L177.19,420.37 L177.40,420.99" stroke="#f0855a"/>
<path d="M48.70,378.75 L48.91,380.93" stroke="#c3525a"/>
<path d="M49.34,385.15 L49.56,387.16 L49.77,389.09" stroke="#c3525a"/>
<path d="M50.20,392.67 L50.42,394.29 L50.63,395.79 L50.84,397.14 L51.06,398.34 L51.27,399.38 L51.49,400.24" stroke="#c3525a"/>
<path d="M56.85,408.13 L57.07,408.44 L57.28,408.74 L57.49,409.04 L57.71,409.33 L57.92,409.61 L58.14,409.88 L58.35,410.14 L58.57,410.38 L58.78,410.60 L59.00,410.81 L59.21,411.00 L59.42,411.16 L59.64,411.30 L59.85,411.42 L60.07,411.50 L60.28,411.57 L60.50,411.60 L60.71,411.62 L60.93,411.63 L61.14,411.63 L61.36,411.60 L61.57,411.55 L61.78,411.47 L62.00,411.37 L62.21,411.26 L62.43,411.12 L62.64,410.96 L62.86,410.77 L63.07,410.53 L63.29,410.23 L63.50,409.89 L63.72,409.51 L63.93,409.09 L64.14,408.64 L64.36,408.16 L64.57,407.67 L64.79,407.15 L65.00,406.62 L65.22,406.08 L65.43,405.54 L65.65,405.00 L65.86,404.47 L66.07,403.94 L66.29,403.44 L66.50,402.94 L66.72,402.48 L66.93,402.04 L67.15,401.63 L67.36,401.27" stroke="#c3525a"/>
<path d="M75.08,379.73 L75.30,377.14" stroke="#c3525a"/>
<path d="M87.31,387.66 L87.52,390.23 L87.74,391.98 L87.95,393.59 L88.17,395.12 L88.38,396.55 L88.60,397.85 L88.81,399.00 L89.03,399.98 L89.24,400.76 L89.45,401.33 L89.67,401.66 L89.88,401.86 L90.10,402.01" stroke="#c3525a"/>
<path d="M110.91,414.11 L111.12,414.96 L111.33,415.75 L111.55,416.46 L111.76,417.08 L111.98,417.61 L112.19,418.04 L112.41,418.35 L112.62,418.54 L112.84,418.60 L113.05,418.53 L113.26,418.38 L113.48,418.15 L113.69,417.83 L113.91,417.45 L114.12,416.99 L114.34,416.48 L114.55,415.90 L114.77,415.28 L114.98,414.61 L115.20,413.89 L115.41,413.14 L115.62,412.35 L115.84,411.19 L116.05,409.53 L116.27,407.45 L116.48,405.01 L116.70,402.30 L116.91,399.37 L117.13,396.30 L117.34,393.17 L117.55,390.04 L117.77,386.99 L117.98,384.08 L118.20,381.40 L118.41,379.01 L118.63,376.89 L118.84,374.78 L119.06,372.69 L119.27,370.62 L119.48,368.58 L119.70,366.60 L119.91,364.67 L120.13,362.81 L120.34,361.05 L120.56,359.38 L120.77,357.82 L120.99,356.39 L121.20,355.09 L121.42,353.94 L121.63,352.83 L121.84,351.72 L122.06,350.62 L122.27,349.53 L122.49,348.49 L122.70,347.49 L122.92,346.55 L123.13,345.68" stroke="#c3525a"/>
<path d="M143.51,371.55 L143.72,372.80 L143.94,374.07 L144.15,375.36 L144.37,376.68 L144.58,378.01 L144.80,379.35 L145.01,380.71 L145.22,382.09 L145.44,383.48 L145.65,384.88 L145.87,386.10 L146.08,387.80 L146.30,389.59 L146.51,391.45 L146.73,393.35 L146.94,395.27 L147.16,397.19 L147.37,399.10 L147.58,400.97 L147.80,402.78 L148.01,404.51 L148.23,406.15 L148.44,407.66 L148.66,409.04 L148.87,410.29 L149.09,411.58 L149.30,412.89 L149.51,414.18 L149.73,415.40 L149.94,416.50 L150.16,417.45 L150.37,418.18 L150.59,418.65 L150.80,418.82 L151.02,418.77 L151.23,418.63 L151.45,418.41 L151.66,418.12 L151.87,417.75 L152.09,417.33 L152.30,416.85 L152.52,416.32 L152.73,415.76 L152.95,415.16 L153.16,414.53 L153.38,413.89 L153.59,413.24 L153.81,412.59 L154.02,411.93 L154.23,411.29 L154.45,410.65 L154.66,409.95 L154.88,409.17 L155.09,408.33 L155.31,407.42 L155.52,406.47 L155.74,405.48 L155.95,404.46 L156.16,403.41 L156.38,402.35 L156.59,401.27 L156.81,400.20 L157.02,399.14 L157.24,398.09 L157.45,397.07 L157.67,396.08 L157.88,395.13 L158.09,394.23 L158.31,393.39 L158.52,392.61 L158.74,391.90 L158.95,391.17 L159.17,390.44 L159.38,389.69 L159.60,388.93 L159.81,388.17 L160.03,387.42 L160.24,386.67 L160.45,385.93 L160.67,385.20 L160.88,384.50 L161.10,383.82 L161.31,383.17 L161.53,382.55 L161.74,381.97 L161.96,381.44 L162.17,380.94 L162.38,380.50 L162.60,380.12 L162.81,379.80 L163.03,379.54 L163.24,379.34 L163.46,379.23 L163.67,379.19 L163.89,379.23 L164.10,379.36 L164.32,379.57 L164.53,379.85 L164.74,380.20 L164.96,380.60 L165.17,381.06 L165.39,381.56 L165.60,382.09 L165.82,382.66 L166.03,383.25 L166.25,383.85 L166.46,384.47 L166.67,385.08 L166.89,385.70 L167.10,386.30 L167.32,386.89 L167.53,387.53 L167.75,388.23 L167.96,388.98 L168.18,389.78 L168.39,390.62 L168.61,391.49 L168.82,392.39 L169.03,393.31 L169.25,394.24 L169.46,395.19 L169.68,396.14 L169.89,397.09 L170.11,398.03 L170.32,398.96 L170.54,399.87 L170.75,400.75 L170.96,401.61 L171.18,402.43 L171.39,403.20 L171.61,403.94 L171.82,404.65 L172.04,405.35 L172.25,406.03 L172.47,406.70 L172.68,407.36 L172.90,408.01 L173.11,408.64 L173.32,409.27 L173.54,409.90 L173.75,410.52 L173.97,411.13 L174.18,411.74 L174.40,412.35 L174.61,412.95 L174.83,413.56 L175.04,414.17 L175.25,414.78 L175.47,415.39 L175.68,416.01 L175.90,416.64 L176.11,417.27 L176.33,417.89 L176.54,418.51 L176.76,419.14 L176.97,419.76 L177.19,420.37 L177.40,420.99" stroke="#c3525a"/>
</g>
<rect x="223.1" y="335.2" width="128.4" height="86.90000000000003" fill="none" stroke="#555" stroke-width="1"/>
<line x1="244.50" y1="422.1" x2="244.50" y2="420.5" stroke="#555" stroke-width="0.9"/>
<line x1="244.50" y1="335.2" x2="244.50" y2="336.8" stroke="#555" stroke-width="0.9"/>
<line x1="265.90" y1="422.1" x2="265.90" y2="420.5" stroke="#555" stroke-width="0.9"/>
<line x1="265.90" y1="335.2" x2="265.90" y2="336.8" stroke="#555" stroke-width="0.9"/>
<line x1="287.30" y1="422.1" x2="287.30" y2="420.5" stroke="#555" stroke-width="0.9"/>
<line x1="287.30" y1="335.2" x2="287.30" y2="336.8" stroke="#555" stroke-width="0.9"/>
<line x1="308.70" y1="422.1" x2="308.70" y2="420.5" stroke="#555" stroke-width="0.9"/>
<line x1="308.70" y1="335.2" x2="308.70" y2="336.8" stroke="#555" stroke-width="0.9"/>
<line x1="330.10" y1="422.1" x2="330.10" y2="420.5" stroke="#555" stroke-width="0.9"/>
<line x1="330.10" y1="335.2" x2="330.10" y2="336.8" stroke="#555" stroke-width="0.9"/>
<line x1="223.1" y1="422.10" x2="224.7" y2="422.10" stroke="#555" stroke-width="0.9"/>
<line x1="351.5" y1="422.10" x2="349.9" y2="422.10" stroke="#555" stroke-width="0.9"/>
<text x="217.9" y="426.0" font-size="10.9" text-anchor="end" fill="#333" >0</text>
<line x1="223.1" y1="394.94" x2="224.7" y2="394.94" stroke="#555" stroke-width="0.9"/>
<line x1="351.5" y1="394.94" x2="349.9" y2="394.94" stroke="#555" stroke-width="0.9"/>
<text x="217.9" y="398.84375" font-size="10.9" text-anchor="end" fill="#333" >0.5</text>
<line x1="223.1" y1="367.79" x2="224.7" y2="367.79" stroke="#555" stroke-width="0.9"/>
<line x1="351.5" y1="367.79" x2="349.9" y2="367.79" stroke="#555" stroke-width="0.9"/>
<text x="217.9" y="371.6875" font-size="10.9" text-anchor="end" fill="#333" >1</text>
<line x1="223.1" y1="340.63" x2="224.7" y2="340.63" stroke="#555" stroke-width="0.9"/>
<line x1="351.5" y1="340.63" x2="349.9" y2="340.63" stroke="#555" stroke-width="0.9"/>
<text x="217.9" y="344.53125" font-size="10.9" text-anchor="end" fill="#333" >1.5</text>
<text x="244.5" y="438.8" font-size="10.9" text-anchor="middle" fill="#333" >800</text>
<text x="287.3" y="438.8" font-size="10.9" text-anchor="middle" fill="#333" >1200</text>
<text x="330.1" y="438.8" font-size="10.9" text-anchor="middle" fill="#333" >1600</text>
<text x="290.5" y="330.3" font-size="11.6" text-anchor="middle" fill="#333" >Spatial offset - 4 mm</text>
<text x="287.30" y="458.30" font-size="12.3" text-anchor="middle" fill="#333">Wavenumber (cm<tspan font-size="7.6" dy="-6" dx="0.6">-</tspan><tspan font-size="7.6" dx="1.6">1</tspan><tspan dy="6" dx="1">)</tspan></text>
<text x="0" y="0" font-size="12.3" text-anchor="middle" fill="#333" transform="translate(197.40,378.65) rotate(-90)">Intensity(a.u)</text>
<clipPath id="c223335"><rect x="223.1" y="335.2" width="128.4" height="86.90000000000003"/></clipPath>
<g clip-path="url(#c223335)" fill="none" stroke-width="2" stroke-linejoin="round" stroke-linecap="round">
<path d="M223.10,392.23 L223.31,393.02 L223.53,393.81 L223.74,394.57 L223.96,395.31 L224.17,396.02 L224.38,396.69 L224.60,397.31 L224.81,397.87 L225.03,398.37 L225.24,398.80 L225.45,399.15 L225.67,399.42 L225.88,399.65 L226.10,399.86 L226.31,400.04 L226.52,400.21 L226.74,400.35 L226.95,400.49 L227.17,400.61 L227.38,400.73 L227.59,400.85 L227.81,400.97 L228.02,401.09 L228.24,401.22 L228.45,401.37 L228.66,401.52 L228.88,401.70 L229.09,401.90 L229.31,402.12 L229.52,402.40 L229.73,402.73 L229.95,403.09 L230.16,403.49 L230.38,403.91 L230.59,404.35 L230.80,404.80 L231.02,405.25 L231.23,405.69 L231.45,406.12 L231.66,406.53 L231.87,406.91 L232.09,407.25 L232.30,407.55 L232.52,407.79 L232.73,407.98 L232.94,408.13 L233.16,408.28 L233.37,408.40 L233.59,408.49 L233.80,408.52 L234.01,408.43 L234.23,408.16 L234.44,407.76 L234.66,407.25 L234.87,406.68 L235.08,406.08 L235.30,405.47 L235.51,404.90 L235.73,404.40 L235.94,404.00 L236.15,403.73 L236.37,403.63 L236.58,403.64 L236.80,403.65 L237.01,403.67 L237.22,403.70 L237.44,403.73 L237.65,403.77 L237.87,403.82 L238.08,403.87 L238.29,403.92 L238.51,403.98 L238.72,404.04 L238.94,404.11 L239.15,404.18 L239.36,404.27 L239.58,404.41 L239.79,404.59 L240.01,404.81 L240.22,405.06 L240.43,405.32 L240.65,405.61 L240.86,405.90 L241.08,406.20 L241.29,406.50 L241.50,406.79 L241.72,407.07 L241.93,407.32 L242.15,407.55 L242.36,407.75 L242.57,407.91 L242.79,408.04 L243.00,408.16 L243.22,408.27 L243.43,408.39 L243.64,408.50 L243.86,408.60 L244.07,408.70 L244.29,408.79 L244.50,408.87 L244.71,408.93 L244.93,408.99 L245.14,409.03 L245.36,409.06 L245.57,409.06 L245.78,408.92 L246.00,408.52 L246.21,407.87 L246.43,407.02 L246.64,406.00 L246.85,404.83 L247.07,403.55 L247.28,402.17 L247.50,400.74 L247.71,399.29 L247.92,397.45 L248.14,394.95 L248.35,391.95 L248.57,388.62 L248.78,385.11 L248.99,381.59 L249.21,378.20 L249.42,375.12 L249.64,372.50 L249.85,370.50 L250.06,368.86 L250.28,367.23 L250.49,365.64 L250.71,364.14 L250.92,362.76 L251.13,361.54 L251.35,360.53 L251.56,359.76 L251.78,359.27 L251.99,359.10 L252.20,359.16 L252.42,359.32 L252.63,359.57 L252.85,359.86 L253.06,360.18 L253.27,360.51 L253.49,360.80 L253.70,361.04 L253.92,361.21 L254.13,361.27 L254.34,361.11 L254.56,360.65 L254.77,359.95 L254.99,359.04 L255.20,357.99 L255.41,356.83 L255.63,355.60 L255.84,354.37 L256.06,353.17 L256.27,352.06 L256.48,351.07 L256.70,350.26 L256.91,349.68 L257.13,349.36 L257.34,349.36 L257.55,349.67 L257.77,350.25 L257.98,351.08 L258.20,352.11 L258.41,353.31 L258.62,354.66 L258.84,356.10 L259.05,357.62 L259.27,359.17 L259.48,360.73 L259.69,362.58 L259.91,364.97 L260.12,367.79 L260.34,370.92 L260.55,374.26 L260.76,377.68 L260.98,381.09 L261.19,384.36 L261.41,387.39 L261.62,390.05 L261.83,392.25 L262.05,393.86 L262.26,395.14 L262.48,396.39 L262.69,397.58 L262.90,398.69 L263.12,399.69 L263.33,400.55 L263.55,401.23 L263.76,401.71 L263.97,401.97 L264.19,402.00 L264.40,401.99 L264.62,401.97 L264.83,401.95 L265.04,401.91 L265.26,401.87 L265.47,401.82 L265.69,401.77 L265.90,401.72 L266.11,401.67 L266.33,401.61 L266.54,401.56 L266.76,401.51 L266.97,401.46 L267.18,401.42 L267.40,401.38 L267.61,401.34 L267.83,401.30 L268.04,401.26 L268.25,401.21 L268.47,401.15 L268.68,401.09 L268.90,401.01 L269.11,400.92 L269.32,400.56 L269.54,399.72 L269.75,398.47 L269.97,396.85 L270.18,394.94 L270.39,392.78 L270.61,390.44 L270.82,387.98 L271.04,385.45 L271.25,382.91 L271.46,380.43 L271.68,378.06 L271.89,375.87 L272.11,373.83 L272.32,371.67 L272.53,369.37 L272.75,367.00 L272.96,364.64 L273.18,362.36 L273.39,360.21 L273.60,358.26 L273.82,356.59 L274.03,355.27 L274.25,354.29 L274.46,353.39 L274.67,352.52 L274.89,351.71 L275.10,350.96 L275.32,350.29 L275.53,349.73 L275.74,349.28 L275.96,348.96 L276.17,348.80 L276.39,348.80 L276.60,348.98 L276.81,349.31 L277.03,349.77 L277.24,350.36 L277.46,351.04 L277.67,351.79 L277.88,352.60 L278.10,353.45 L278.31,354.32 L278.53,355.22 L278.74,356.34 L278.95,357.70 L279.17,359.26 L279.38,361.01 L279.60,362.93 L279.81,364.98 L280.02,367.14 L280.24,369.39 L280.45,371.71 L280.67,374.07 L280.88,376.44 L281.09,378.81 L281.31,381.14 L281.52,383.42 L281.74,385.62 L281.95,387.71 L282.16,389.67 L282.38,391.48 L282.59,393.12 L282.81,394.58 L283.02,396.05 L283.23,397.56 L283.45,399.09 L283.66,400.62 L283.88,402.16 L284.09,403.68 L284.30,405.18 L284.52,406.65 L284.73,408.07 L284.95,409.43 L285.16,410.72 L285.37,411.94 L285.59,413.06 L285.80,414.08 L286.02,414.99 L286.23,415.78 L286.44,416.43 L286.66,416.93 L286.87,417.28 L287.09,417.46 L287.30,417.46 L287.51,417.30 L287.73,416.98 L287.94,416.52 L288.16,415.93 L288.37,415.23 L288.58,414.42 L288.80,413.52 L289.01,412.54 L289.23,411.50 L289.44,410.40 L289.65,409.25 L289.87,408.08 L290.08,406.89 L290.30,405.49 L290.51,403.72 L290.72,401.62 L290.94,399.26 L291.15,396.68 L291.37,393.94 L291.58,391.10 L291.79,388.21 L292.01,385.31 L292.22,382.48 L292.44,379.75 L292.65,377.19 L292.86,374.85 L293.08,372.61 L293.29,370.33 L293.51,368.04 L293.72,365.74 L293.93,363.47 L294.15,361.24 L294.36,359.07 L294.58,356.97 L294.79,354.97 L295.00,353.09 L295.22,351.34 L295.43,349.75 L295.65,348.33 L295.86,347.07 L296.07,345.83 L296.29,344.57 L296.50,343.34 L296.72,342.14 L296.93,340.98 L297.14,339.90 L297.36,338.90 L297.57,338.01 L297.79,337.24 L298.00,336.61 L298.21,336.14 L298.43,335.85 L298.64,335.74 L298.86,335.87 L299.07,336.25 L299.28,336.85 L299.50,337.63 L299.71,338.58 L299.93,339.66 L300.14,340.85 L300.35,342.12 L300.57,343.44 L300.78,344.79 L301.00,346.14 L301.21,347.46 L301.42,348.72 L301.64,349.94 L301.85,351.30 L302.07,352.81 L302.28,354.44 L302.49,356.13 L302.71,357.85 L302.92,359.57 L303.14,361.24 L303.35,362.81 L303.56,364.27 L303.78,365.55 L303.99,366.64 L304.21,367.47 L304.42,368.06 L304.63,368.60 L304.85,369.13 L305.06,369.64 L305.28,370.13 L305.49,370.60 L305.70,371.05 L305.92,371.47 L306.13,371.88 L306.35,372.25 L306.56,372.60 L306.77,372.93 L306.99,373.22 L307.20,373.48 L307.42,373.71 L307.63,373.90 L307.84,374.06 L308.06,374.18 L308.27,374.26 L308.49,374.30 L308.70,374.29 L308.91,374.13 L309.13,373.84 L309.34,373.42 L309.56,372.88 L309.77,372.24 L309.98,371.50 L310.20,370.67 L310.41,369.77 L310.63,368.81 L310.84,367.80 L311.05,366.74 L311.27,365.66 L311.48,364.56 L311.70,363.46 L311.91,362.36 L312.12,360.97 L312.34,359.11 L312.55,356.95 L312.77,354.66 L312.98,352.41 L313.19,350.36 L313.41,348.69 L313.62,347.56 L313.84,347.15 L314.05,347.32 L314.26,347.82 L314.48,348.60 L314.69,349.61 L314.91,350.81 L315.12,352.16 L315.33,353.62 L315.55,355.14 L315.76,356.68 L315.98,358.19 L316.19,359.64 L316.40,361.12 L316.62,362.74 L316.83,364.48 L317.05,366.33 L317.26,368.26 L317.47,370.26 L317.69,372.30 L317.90,374.37 L318.12,376.44 L318.33,378.50 L318.54,380.52 L318.76,382.49 L318.97,384.39 L319.19,386.19 L319.40,387.88 L319.61,389.50 L319.83,391.10 L320.04,392.68 L320.26,394.24 L320.47,395.77 L320.68,397.27 L320.90,398.74 L321.11,400.18 L321.33,401.59 L321.54,402.95 L321.75,404.28 L321.97,405.56 L322.18,406.79 L322.40,407.98 L322.61,409.19 L322.82,410.48 L323.04,411.80 L323.25,413.12 L323.47,414.40 L323.68,415.59 L323.89,416.65 L324.11,417.55 L324.32,418.24 L324.54,418.68 L324.75,418.84 L324.96,418.76 L325.18,418.52 L325.39,418.14 L325.61,417.64 L325.82,417.02 L326.03,416.31 L326.25,415.52 L326.46,414.66 L326.68,413.74 L326.89,412.79 L327.10,411.82 L327.32,410.83 L327.53,409.86 L327.75,408.90 L327.96,407.98 L328.17,407.03 L328.39,405.99 L328.60,404.86 L328.82,403.66 L329.03,402.40 L329.24,401.08 L329.46,399.73 L329.67,398.35 L329.89,396.95 L330.10,395.54 L330.31,394.14 L330.53,392.76 L330.74,391.40 L330.96,390.08 L331.17,388.80 L331.38,387.59 L331.60,386.44 L331.81,385.38 L332.03,384.41 L332.24,383.54 L332.45,382.72 L332.67,381.89 L332.88,381.06 L333.10,380.22 L333.31,379.38 L333.52,378.55 L333.74,377.73 L333.95,376.92 L334.17,376.13 L334.38,375.35 L334.59,374.60 L334.81,373.88 L335.02,373.19 L335.24,372.53 L335.45,371.91 L335.66,371.33 L335.88,370.80 L336.09,370.31 L336.31,369.88 L336.52,369.51 L336.73,369.19 L336.95,368.94 L337.16,368.75 L337.38,368.64 L337.59,368.60 L337.80,368.65 L338.02,368.77 L338.23,368.97 L338.45,369.24 L338.66,369.58 L338.87,369.97 L339.09,370.40 L339.30,370.88 L339.52,371.40 L339.73,371.94 L339.94,372.50 L340.16,373.08 L340.37,373.67 L340.59,374.26 L340.80,374.85 L341.01,375.48 L341.23,376.19 L341.44,376.99 L341.66,377.86 L341.87,378.80 L342.08,379.80 L342.30,380.85 L342.51,381.94 L342.73,383.07 L342.94,384.22 L343.15,385.40 L343.37,386.59 L343.58,387.78 L343.80,388.97 L344.01,390.15 L344.22,391.31 L344.44,392.45 L344.65,393.55 L344.87,394.61 L345.08,395.62 L345.29,396.57 L345.51,397.49 L345.72,398.41 L345.94,399.32 L346.15,400.22 L346.36,401.12 L346.58,402.01 L346.79,402.90 L347.01,403.78 L347.22,404.65 L347.43,405.51 L347.65,406.37 L347.86,407.22 L348.08,408.07 L348.29,408.91 L348.50,409.74 L348.72,410.56 L348.93,411.37 L349.15,412.18 L349.36,412.98 L349.57,413.77 L349.79,414.55 L350.00,415.32 L350.22,416.08 L350.43,416.84 L350.64,417.58 L350.86,418.32 L351.07,419.05 L351.29,419.76 L351.50,420.47" stroke="#7d7ccc"/>
<path d="M223.10,393.86 L223.31,395.05 L223.53,396.23 L223.74,397.39 L223.96,398.51 L224.17,399.57 L224.38,400.57 L224.60,401.48 L224.81,402.30 L225.03,403.00 L225.24,403.58 L225.45,404.01 L225.67,404.32 L225.88,404.57 L226.10,404.81 L226.31,405.02 L226.52,405.21 L226.74,405.39 L226.95,405.55 L227.17,405.69 L227.38,405.83 L227.59,405.96 L227.81,406.08 L228.02,406.20 L228.24,406.32 L228.45,406.44 L228.66,406.56 L228.88,406.69 L229.09,406.82 L229.31,406.96 L229.52,407.10 L229.73,407.23 L229.95,407.35 L230.16,407.47 L230.38,407.59 L230.59,407.70 L230.80,407.81 L231.02,407.93 L231.23,408.05 L231.45,408.17 L231.66,408.30 L231.87,408.43 L232.09,408.57 L232.30,408.73 L232.52,408.89 L232.73,409.06 L232.94,409.29 L233.16,409.58 L233.37,409.92 L233.59,410.28 L233.80,410.65 L234.01,411.00 L234.23,411.31 L234.44,411.56 L234.66,411.72 L234.87,411.78 L235.08,411.62 L235.30,411.19 L235.51,410.54 L235.73,409.74 L235.94,408.85 L236.15,407.93 L236.37,407.05 L236.58,406.27 L236.80,405.66 L237.01,405.26 L237.22,405.01 L237.44,404.76 L237.65,404.53 L237.87,404.31 L238.08,404.12 L238.29,403.96 L238.51,403.82 L238.72,403.72 L238.94,403.66 L239.15,403.63 L239.36,403.65 L239.58,403.69 L239.79,403.75 L240.01,403.83 L240.22,403.93 L240.43,404.05 L240.65,404.17 L240.86,404.30 L241.08,404.43 L241.29,404.57 L241.50,404.70 L241.72,404.83 L241.93,404.95 L242.15,405.06 L242.36,405.16 L242.57,405.23 L242.79,405.29 L243.00,405.35 L243.22,405.41 L243.43,405.46 L243.64,405.52 L243.86,405.57 L244.07,405.62 L244.29,405.66 L244.50,405.70 L244.71,405.74 L244.93,405.77 L245.14,405.79 L245.36,405.80 L245.57,405.81 L245.78,405.67 L246.00,405.27 L246.21,404.63 L246.43,403.79 L246.64,402.78 L246.85,401.61 L247.07,400.33 L247.28,398.95 L247.50,397.51 L247.71,396.03 L247.92,394.15 L248.14,391.58 L248.35,388.49 L248.57,385.02 L248.78,381.33 L248.99,377.58 L249.21,373.93 L249.42,370.52 L249.64,367.51 L249.85,365.07 L250.06,362.90 L250.28,360.66 L250.49,358.47 L250.71,356.44 L250.92,354.68 L251.13,353.28 L251.35,352.37 L251.56,352.04 L251.78,352.08 L251.99,352.19 L252.20,352.36 L252.42,352.57 L252.63,352.79 L252.85,353.02 L253.06,353.24 L253.27,353.43 L253.49,353.58 L253.70,353.66 L253.92,353.63 L254.13,353.37 L254.34,352.88 L254.56,352.19 L254.77,351.32 L254.99,350.32 L255.20,349.20 L255.41,348.00 L255.63,346.75 L255.84,345.47 L256.06,344.20 L256.27,342.97 L256.48,341.81 L256.70,340.75 L256.91,339.81 L257.13,339.02 L257.34,338.43 L257.55,338.05 L257.77,337.92 L257.98,338.16 L258.20,338.84 L258.41,339.91 L258.62,341.31 L258.84,343.00 L259.05,344.90 L259.27,346.98 L259.48,349.17 L259.69,351.41 L259.91,353.67 L260.12,356.42 L260.34,360.03 L260.55,364.29 L260.76,368.94 L260.98,373.77 L261.19,378.53 L261.41,382.99 L261.62,386.91 L261.83,390.07 L262.05,392.23 L262.26,393.76 L262.48,395.19 L262.69,396.52 L262.90,397.75 L263.12,398.89 L263.33,399.93 L263.55,400.89 L263.76,401.75 L263.97,402.52 L264.19,403.20 L264.40,403.79 L264.62,404.30 L264.83,404.72 L265.04,405.10 L265.26,405.46 L265.47,405.82 L265.69,406.16 L265.90,406.48 L266.11,406.79 L266.33,407.08 L266.54,407.34 L266.76,407.59 L266.97,407.81 L267.18,408.00 L267.40,408.17 L267.61,408.30 L267.83,408.41 L268.04,408.48 L268.25,408.52 L268.47,408.50 L268.68,408.29 L268.90,407.91 L269.11,407.35 L269.32,406.64 L269.54,405.80 L269.75,404.85 L269.97,403.80 L270.18,402.66 L270.39,401.46 L270.61,400.22 L270.82,398.95 L271.04,397.67 L271.25,396.39 L271.46,395.14 L271.68,393.93 L271.89,392.78 L272.11,391.67 L272.32,390.46 L272.53,389.13 L272.75,387.73 L272.96,386.28 L273.18,384.81 L273.39,383.36 L273.60,381.96 L273.82,380.63 L274.03,379.42 L274.25,378.34 L274.46,377.44 L274.67,376.74 L274.89,376.25 L275.10,375.79 L275.32,375.36 L275.53,374.96 L275.74,374.60 L275.96,374.29 L276.17,374.04 L276.39,373.87 L276.60,373.77 L276.81,373.79 L277.03,373.98 L277.24,374.33 L277.46,374.83 L277.67,375.43 L277.88,376.12 L278.10,376.87 L278.31,377.65 L278.53,378.43 L278.74,379.19 L278.95,379.99 L279.17,380.90 L279.38,381.90 L279.60,382.98 L279.81,384.14 L280.02,385.35 L280.24,386.62 L280.45,387.92 L280.67,389.24 L280.88,390.59 L281.09,391.93 L281.31,393.26 L281.52,394.58 L281.74,395.86 L281.95,397.10 L282.16,398.28 L282.38,399.40 L282.59,400.43 L282.81,401.40 L283.02,402.39 L283.23,403.41 L283.45,404.45 L283.66,405.51 L283.88,406.57 L284.09,407.63 L284.30,408.68 L284.52,409.72 L284.73,410.72 L284.95,411.69 L285.16,412.61 L285.37,413.48 L285.59,414.29 L285.80,415.02 L286.02,415.68 L286.23,416.25 L286.44,416.72 L286.66,417.08 L286.87,417.34 L287.09,417.47 L287.30,417.46 L287.51,417.30 L287.73,416.98 L287.94,416.52 L288.16,415.93 L288.37,415.23 L288.58,414.42 L288.80,413.52 L289.01,412.54 L289.23,411.50 L289.44,410.40 L289.65,409.25 L289.87,408.08 L290.08,406.89 L290.30,405.49 L290.51,403.69 L290.72,401.57 L290.94,399.17 L291.15,396.56 L291.37,393.79 L291.58,390.93 L291.79,388.02 L292.01,385.12 L292.22,382.30 L292.44,379.61 L292.65,377.11 L292.86,374.85 L293.08,372.71 L293.29,370.54 L293.51,368.37 L293.72,366.20 L293.93,364.06 L294.15,361.97 L294.36,359.95 L294.58,358.02 L294.79,356.19 L295.00,354.50 L295.22,352.95 L295.43,351.57 L295.65,350.38 L295.86,349.37 L296.07,348.38 L296.29,347.41 L296.50,346.46 L296.72,345.56 L296.93,344.71 L297.14,343.94 L297.36,343.26 L297.57,342.68 L297.79,342.23 L298.00,341.91 L298.21,341.74 L298.43,341.75 L298.64,341.97 L298.86,342.40 L299.07,343.01 L299.28,343.79 L299.50,344.71 L299.71,345.76 L299.93,346.92 L300.14,348.16 L300.35,349.46 L300.57,350.81 L300.78,352.19 L301.00,353.57 L301.21,354.94 L301.42,356.28 L301.64,357.60 L301.85,359.15 L302.07,360.92 L302.28,362.85 L302.49,364.89 L302.71,366.99 L302.92,369.09 L303.14,371.15 L303.35,373.10 L303.56,374.90 L303.78,376.49 L303.99,377.81 L304.21,378.82 L304.42,379.51 L304.63,380.14 L304.85,380.75 L305.06,381.34 L305.28,381.91 L305.49,382.46 L305.70,382.99 L305.92,383.49 L306.13,383.96 L306.35,384.42 L306.56,384.84 L306.77,385.23 L306.99,385.60 L307.20,385.93 L307.42,386.23 L307.63,386.50 L307.84,386.73 L308.06,386.93 L308.27,387.09 L308.49,387.21 L308.70,387.29 L308.91,387.33 L309.13,387.31 L309.34,387.07 L309.56,386.62 L309.77,385.97 L309.98,385.15 L310.20,384.19 L310.41,383.09 L310.63,381.90 L310.84,380.62 L311.05,379.28 L311.27,377.90 L311.48,376.51 L311.70,375.12 L311.91,373.76 L312.12,372.13 L312.34,370.02 L312.55,367.62 L312.77,365.09 L312.98,362.63 L313.19,360.40 L313.41,358.59 L313.62,357.37 L313.84,356.93 L314.05,357.02 L314.26,357.31 L314.48,357.75 L314.69,358.34 L314.91,359.05 L315.12,359.85 L315.33,360.72 L315.55,361.65 L315.76,362.61 L315.98,363.58 L316.19,364.53 L316.40,365.52 L316.62,366.60 L316.83,367.77 L317.05,369.04 L317.26,370.39 L317.47,371.82 L317.69,373.33 L317.90,374.91 L318.12,376.57 L318.33,378.30 L318.54,380.10 L318.76,381.96 L318.97,383.88 L319.19,385.85 L319.40,387.88 L319.61,389.50 L319.83,391.10 L320.04,392.68 L320.26,394.24 L320.47,395.77 L320.68,397.27 L320.90,398.74 L321.11,400.18 L321.33,401.59 L321.54,402.95 L321.75,404.28 L321.97,405.56 L322.18,406.79 L322.40,407.98 L322.61,409.19 L322.82,410.48 L323.04,411.80 L323.25,413.12 L323.47,414.40 L323.68,415.59 L323.89,416.65 L324.11,417.55 L324.32,418.24 L324.54,418.68 L324.75,418.84 L324.96,418.76 L325.18,418.52 L325.39,418.14 L325.61,417.64 L325.82,417.02 L326.03,416.31 L326.25,415.52 L326.46,414.66 L326.68,413.74 L326.89,412.79 L327.10,411.82 L327.32,410.83 L327.53,409.86 L327.75,408.90 L327.96,407.98 L328.17,407.03 L328.39,405.99 L328.60,404.86 L328.82,403.66 L329.03,402.40 L329.24,401.08 L329.46,399.73 L329.67,398.35 L329.89,396.95 L330.10,395.54 L330.31,394.14 L330.53,392.76 L330.74,391.40 L330.96,390.08 L331.17,388.80 L331.38,387.59 L331.60,386.44 L331.81,385.38 L332.03,384.41 L332.24,383.54 L332.45,382.72 L332.67,381.89 L332.88,381.06 L333.10,380.22 L333.31,379.38 L333.52,378.55 L333.74,377.73 L333.95,376.92 L334.17,376.13 L334.38,375.35 L334.59,374.60 L334.81,373.88 L335.02,373.19 L335.24,372.53 L335.45,371.91 L335.66,371.33 L335.88,370.80 L336.09,370.31 L336.31,369.88 L336.52,369.51 L336.73,369.19 L336.95,368.94 L337.16,368.75 L337.38,368.64 L337.59,368.60 L337.80,368.65 L338.02,368.77 L338.23,368.97 L338.45,369.24 L338.66,369.58 L338.87,369.97 L339.09,370.40 L339.30,370.88 L339.52,371.40 L339.73,371.94 L339.94,372.50 L340.16,373.08 L340.37,373.67 L340.59,374.26 L340.80,374.85 L341.01,375.48 L341.23,376.19 L341.44,376.99 L341.66,377.86 L341.87,378.80 L342.08,379.80 L342.30,380.85 L342.51,381.94 L342.73,383.07 L342.94,384.22 L343.15,385.40 L343.37,386.59 L343.58,387.78 L343.80,388.97 L344.01,390.15 L344.22,391.31 L344.44,392.45 L344.65,393.55 L344.87,394.61 L345.08,395.62 L345.29,396.57 L345.51,397.49 L345.72,398.41 L345.94,399.32 L346.15,400.22 L346.36,401.12 L346.58,402.01 L346.79,402.90 L347.01,403.78 L347.22,404.65 L347.43,405.51 L347.65,406.37 L347.86,407.22 L348.08,408.07 L348.29,408.91 L348.50,409.74 L348.72,410.56 L348.93,411.37 L349.15,412.18 L349.36,412.98 L349.57,413.77 L349.79,414.55 L350.00,415.32 L350.22,416.08 L350.43,416.84 L350.64,417.58 L350.86,418.32 L351.07,419.05 L351.29,419.76 L351.50,420.47" stroke="#f0855a"/>
<path d="M223.31,394.04 L223.53,395.02 L223.74,395.98 L223.96,396.91 L224.17,397.80 L224.38,398.63 L224.60,399.39 L224.81,400.08 L225.03,400.68" stroke="#c3525a"/>
<path d="M232.30,408.14 L232.52,408.34 L232.73,408.52 L232.94,408.71 L233.16,408.93 L233.37,409.16 L233.59,409.39" stroke="#c3525a"/>
<path d="M237.01,404.47 L237.22,404.35 L237.44,404.25 L237.65,404.15 L237.87,404.07 L238.08,403.99 L238.29,403.94 L238.51,403.90 L238.72,403.88 L238.94,403.88 L239.15,403.91 L239.36,403.96 L239.58,404.05 L239.79,404.17 L240.01,404.32 L240.22,404.49 L240.43,404.68" stroke="#c3525a"/>
<path d="M246.64,404.39 L246.85,403.22 L247.07,401.94 L247.28,400.56 L247.50,399.13 L247.71,397.66 L247.92,395.80 L248.14,393.27 L248.35,390.22 L248.57,386.82 L248.78,383.22 L248.99,379.58 L249.21,376.06" stroke="#c3525a"/>
<path d="M250.28,363.94 L250.49,362.06" stroke="#c3525a"/>
<path d="M260.55,369.27 L260.76,373.31" stroke="#c3525a"/>
<path d="M261.41,385.19 L261.62,388.48 L261.83,391.16 L262.05,393.04 L262.26,394.45 L262.48,395.79 L262.69,397.05 L262.90,398.22 L263.12,399.29 L263.33,400.24 L263.55,401.06 L263.76,401.73 L263.97,402.24 L264.19,402.60 L264.40,402.89 L264.62,403.14 L264.83,403.33" stroke="#c3525a"/>
<path d="M283.66,403.07 L283.88,404.37 L284.09,405.66 L284.30,406.93 L284.52,408.18 L284.73,409.39 L284.95,410.56 L285.16,411.67 L285.37,412.71 L285.59,413.67 L285.80,414.55 L286.02,415.33 L286.23,416.01 L286.44,416.57 L286.66,417.01 L286.87,417.31 L287.09,417.46 L287.30,417.46 L287.51,417.30 L287.73,416.98 L287.94,416.52 L288.16,415.93 L288.37,415.23 L288.58,414.42 L288.80,413.52 L289.01,412.54 L289.23,411.50 L289.44,410.40 L289.65,409.25 L289.87,408.08 L290.08,406.89 L290.30,405.49 L290.51,403.70 L290.72,401.59 L290.94,399.21 L291.15,396.62 L291.37,393.87 L291.58,391.01 L291.79,388.11 L292.01,385.22 L292.22,382.39 L292.44,379.68 L292.65,377.15 L292.86,374.85 L293.08,372.66 L293.29,370.44 L293.51,368.20 L293.72,365.97 L293.93,363.77 L294.15,361.60 L294.36,359.51 L294.58,357.49 L294.79,355.58 L295.00,353.80 L295.22,352.15 L295.43,350.66 L295.65,349.36 L295.86,348.22 L296.07,347.10 L296.29,345.99 L296.50,344.90 L296.72,343.85" stroke="#c3525a"/>
<path d="M302.49,360.51 L302.71,362.42" stroke="#c3525a"/>
<path d="M316.19,362.08 L316.40,363.32 L316.62,364.67 L316.83,366.13 L317.05,367.68 L317.26,369.32 L317.47,371.04 L317.69,372.82 L317.90,374.64 L318.12,376.51 L318.33,378.40 L318.54,380.31 L318.76,382.23 L318.97,384.13 L319.19,386.02 L319.40,387.88 L319.61,389.50 L319.83,391.10 L320.04,392.68 L320.26,394.24 L320.47,395.77 L320.68,397.27 L320.90,398.74 L321.11,400.18 L321.33,401.59 L321.54,402.95 L321.75,404.28 L321.97,405.56 L322.18,406.79 L322.40,407.98 L322.61,409.19 L322.82,410.48 L323.04,411.80 L323.25,413.12 L323.47,414.40 L323.68,415.59 L323.89,416.65 L324.11,417.55 L324.32,418.24 L324.54,418.68 L324.75,418.84 L324.96,418.76 L325.18,418.52 L325.39,418.14 L325.61,417.64 L325.82,417.02 L326.03,416.31 L326.25,415.52 L326.46,414.66 L326.68,413.74 L326.89,412.79 L327.10,411.82 L327.32,410.83 L327.53,409.86 L327.75,408.90 L327.96,407.98 L328.17,407.03 L328.39,405.99 L328.60,404.86 L328.82,403.66 L329.03,402.40 L329.24,401.08 L329.46,399.73 L329.67,398.35 L329.89,396.95 L330.10,395.54 L330.31,394.14 L330.53,392.76 L330.74,391.40 L330.96,390.08 L331.17,388.80 L331.38,387.59 L331.60,386.44 L331.81,385.38 L332.03,384.41 L332.24,383.54 L332.45,382.72 L332.67,381.89 L332.88,381.06 L333.10,380.22 L333.31,379.38 L333.52,378.55 L333.74,377.73 L333.95,376.92 L334.17,376.13 L334.38,375.35 L334.59,374.60 L334.81,373.88 L335.02,373.19 L335.24,372.53 L335.45,371.91 L335.66,371.33 L335.88,370.80 L336.09,370.31 L336.31,369.88 L336.52,369.51 L336.73,369.19 L336.95,368.94 L337.16,368.75 L337.38,368.64 L337.59,368.60 L337.80,368.65 L338.02,368.77 L338.23,368.97 L338.45,369.24 L338.66,369.58 L338.87,369.97 L339.09,370.40 L339.30,370.88 L339.52,371.40 L339.73,371.94 L339.94,372.50 L340.16,373.08 L340.37,373.67 L340.59,374.26 L340.80,374.85 L341.01,375.48 L341.23,376.19 L341.44,376.99 L341.66,377.86 L341.87,378.80 L342.08,379.80 L342.30,380.85 L342.51,381.94 L342.73,383.07 L342.94,384.22 L343.15,385.40 L343.37,386.59 L343.58,387.78 L343.80,388.97 L344.01,390.15 L344.22,391.31 L344.44,392.45 L344.65,393.55 L344.87,394.61 L345.08,395.62 L345.29,396.57 L345.51,397.49 L345.72,398.41 L345.94,399.32 L346.15,400.22 L346.36,401.12 L346.58,402.01 L346.79,402.90 L347.01,403.78 L347.22,404.65 L347.43,405.51 L347.65,406.37 L347.86,407.22 L348.08,408.07 L348.29,408.91 L348.50,409.74 L348.72,410.56 L348.93,411.37 L349.15,412.18 L349.36,412.98 L349.57,413.77 L349.79,414.55 L350.00,415.32 L350.22,416.08 L350.43,416.84 L350.64,417.58 L350.86,418.32 L351.07,419.05 L351.29,419.76 L351.50,420.47" stroke="#c3525a"/>
</g>
<rect x="48.7" y="483.2" width="128.7" height="86.80000000000001" fill="none" stroke="#555" stroke-width="1"/>
<line x1="70.15" y1="570.0" x2="70.15" y2="568.4" stroke="#555" stroke-width="0.9"/>
<line x1="70.15" y1="483.2" x2="70.15" y2="484.8" stroke="#555" stroke-width="0.9"/>
<line x1="91.60" y1="570.0" x2="91.60" y2="568.4" stroke="#555" stroke-width="0.9"/>
<line x1="91.60" y1="483.2" x2="91.60" y2="484.8" stroke="#555" stroke-width="0.9"/>
<line x1="113.05" y1="570.0" x2="113.05" y2="568.4" stroke="#555" stroke-width="0.9"/>
<line x1="113.05" y1="483.2" x2="113.05" y2="484.8" stroke="#555" stroke-width="0.9"/>
<line x1="134.50" y1="570.0" x2="134.50" y2="568.4" stroke="#555" stroke-width="0.9"/>
<line x1="134.50" y1="483.2" x2="134.50" y2="484.8" stroke="#555" stroke-width="0.9"/>
<line x1="155.95" y1="570.0" x2="155.95" y2="568.4" stroke="#555" stroke-width="0.9"/>
<line x1="155.95" y1="483.2" x2="155.95" y2="484.8" stroke="#555" stroke-width="0.9"/>
<line x1="48.7" y1="570.00" x2="50.300000000000004" y2="570.00" stroke="#555" stroke-width="0.9"/>
<line x1="177.4" y1="570.00" x2="175.8" y2="570.00" stroke="#555" stroke-width="0.9"/>
<text x="43.5" y="573.9" font-size="10.9" text-anchor="end" fill="#333" >0</text>
<line x1="48.7" y1="542.88" x2="50.300000000000004" y2="542.88" stroke="#555" stroke-width="0.9"/>
<line x1="177.4" y1="542.88" x2="175.8" y2="542.88" stroke="#555" stroke-width="0.9"/>
<text x="43.5" y="546.775" font-size="10.9" text-anchor="end" fill="#333" >0.5</text>
<line x1="48.7" y1="515.75" x2="50.300000000000004" y2="515.75" stroke="#555" stroke-width="0.9"/>
<line x1="177.4" y1="515.75" x2="175.8" y2="515.75" stroke="#555" stroke-width="0.9"/>
<text x="43.5" y="519.65" font-size="10.9" text-anchor="end" fill="#333" >1</text>
<line x1="48.7" y1="488.62" x2="50.300000000000004" y2="488.62" stroke="#555" stroke-width="0.9"/>
<line x1="177.4" y1="488.62" x2="175.8" y2="488.62" stroke="#555" stroke-width="0.9"/>
<text x="43.5" y="492.525" font-size="10.9" text-anchor="end" fill="#333" >1.5</text>
<text x="70.15" y="586.7" font-size="10.9" text-anchor="middle" fill="#333" >800</text>
<text x="113.05" y="586.7" font-size="10.9" text-anchor="middle" fill="#333" >1200</text>
<text x="155.95" y="586.7" font-size="10.9" text-anchor="middle" fill="#333" >1600</text>
<text x="116.25" y="478.3" font-size="11.6" text-anchor="middle" fill="#333" >Spatial offset - 8 mm</text>
<text x="113.05" y="606.20" font-size="12.3" text-anchor="middle" fill="#333">Wavenumber (cm<tspan font-size="7.6" dy="-6" dx="0.6">-</tspan><tspan font-size="7.6" dx="1.6">1</tspan><tspan dy="6" dx="1">)</tspan></text>
<text x="0" y="0" font-size="12.3" text-anchor="middle" fill="#333" transform="translate(23.00,526.60) rotate(-90)">Intensity(a.u)</text>
<clipPath id="c48483"><rect x="48.7" y="483.2" width="128.7" height="86.80000000000001"/></clipPath>
<g clip-path="url(#c48483)" fill="none" stroke-width="2" stroke-linejoin="round" stroke-linecap="round">
<path d="M48.70,542.88 L48.91,543.04 L49.13,543.20 L49.34,543.36 L49.56,543.52 L49.77,543.68 L49.99,543.83 L50.20,543.98 L50.42,544.12 L50.63,544.27 L50.84,544.41 L51.06,544.54 L51.27,544.67 L51.49,544.80 L51.70,544.93 L51.92,545.04 L52.13,545.16 L52.35,545.26 L52.56,545.36 L52.78,545.45 L52.99,545.54 L53.20,545.62 L53.42,545.70 L53.63,545.78 L53.85,545.86 L54.06,545.95 L54.28,546.04 L54.49,546.14 L54.71,546.24 L54.92,546.35 L55.14,546.47 L55.35,546.60 L55.56,546.75 L55.78,546.96 L55.99,547.22 L56.21,547.51 L56.42,547.85 L56.64,548.20 L56.85,548.57 L57.07,548.95 L57.28,549.32 L57.49,549.67 L57.71,550.01 L57.92,550.31 L58.14,550.57 L58.35,550.78 L58.57,550.92 L58.78,551.00 L59.00,551.01 L59.21,550.96 L59.42,550.88 L59.64,550.76 L59.85,550.62 L60.07,550.45 L60.28,550.27 L60.50,550.08 L60.71,549.88 L60.93,549.68 L61.14,549.49 L61.36,549.32 L61.57,549.16 L61.78,549.03 L62.00,548.93 L62.21,548.87 L62.43,548.84 L62.64,548.84 L62.86,548.85 L63.07,548.86 L63.29,548.87 L63.50,548.89 L63.72,548.91 L63.93,548.94 L64.14,548.96 L64.36,549.00 L64.57,549.03 L64.79,549.07 L65.00,549.11 L65.22,549.16 L65.43,549.21 L65.65,549.27 L65.86,549.32 L66.07,549.38 L66.29,549.53 L66.50,549.81 L66.72,550.22 L66.93,550.72 L67.15,551.29 L67.36,551.91 L67.58,552.56 L67.79,553.20 L68.00,553.83 L68.22,554.41 L68.43,554.93 L68.65,555.35 L68.86,555.73 L69.08,556.13 L69.29,556.53 L69.51,556.93 L69.72,557.31 L69.94,557.66 L70.15,557.97 L70.36,558.23 L70.58,558.43 L70.79,558.56 L71.01,558.61 L71.22,558.55 L71.44,558.39 L71.65,558.14 L71.87,557.79 L72.08,557.37 L72.30,556.87 L72.51,556.30 L72.72,555.67 L72.94,554.99 L73.15,554.27 L73.37,553.19 L73.58,551.53 L73.80,549.41 L74.01,546.93 L74.23,544.24 L74.44,541.43 L74.65,538.64 L74.87,535.98 L75.08,533.46 L75.30,530.57 L75.51,527.36 L75.73,523.98 L75.94,520.61 L76.16,517.39 L76.37,514.50 L76.59,512.09 L76.80,510.33 L77.01,509.37 L77.23,509.25 L77.44,509.31 L77.66,509.44 L77.87,509.60 L78.09,509.80 L78.30,510.03 L78.52,510.26 L78.73,510.51 L78.94,510.74 L79.16,510.95 L79.37,511.14 L79.59,511.28 L79.80,511.38 L80.02,511.41 L80.23,511.26 L80.45,510.85 L80.66,510.21 L80.88,509.39 L81.09,508.43 L81.30,507.37 L81.52,506.27 L81.73,505.15 L81.95,504.06 L82.16,503.05 L82.38,502.15 L82.59,501.42 L82.81,500.88 L83.02,500.60 L83.23,500.60 L83.45,500.89 L83.66,501.45 L83.88,502.23 L84.09,503.21 L84.31,504.36 L84.52,505.64 L84.74,507.01 L84.95,508.45 L85.16,509.93 L85.38,511.41 L85.59,513.16 L85.81,515.42 L86.02,518.08 L86.24,521.03 L86.45,524.18 L86.67,527.41 L86.88,530.63 L87.10,533.73 L87.31,536.61 L87.52,539.16 L87.74,541.28 L87.95,542.88 L88.17,544.16 L88.38,545.42 L88.60,546.65 L88.81,547.84 L89.03,548.96 L89.24,550.01 L89.45,550.98 L89.67,551.85 L89.88,552.60 L90.10,553.23 L90.31,553.73 L90.53,554.07 L90.74,554.24 L90.96,554.26 L91.17,554.23 L91.39,554.16 L91.60,554.05 L91.81,553.92 L92.03,553.75 L92.24,553.56 L92.46,553.34 L92.67,553.10 L92.89,552.83 L93.10,552.54 L93.32,552.23 L93.53,551.90 L93.75,551.55 L93.96,551.02 L94.17,550.16 L94.39,549.00 L94.60,547.59 L94.82,545.96 L95.03,544.15 L95.25,542.20 L95.46,540.14 L95.68,538.02 L95.89,535.88 L96.10,533.74 L96.32,531.65 L96.53,529.65 L96.75,527.77 L96.96,526.06 L97.18,524.39 L97.39,522.65 L97.61,520.86 L97.82,519.05 L98.03,517.22 L98.25,515.42 L98.46,513.65 L98.68,511.95 L98.89,510.34 L99.11,508.83 L99.32,507.46 L99.54,506.24 L99.75,505.20 L99.97,504.36 L100.18,503.63 L100.39,502.90 L100.61,502.20 L100.82,501.54 L101.04,500.92 L101.25,500.37 L101.47,499.88 L101.68,499.49 L101.90,499.19 L102.11,499.00 L102.33,498.93 L102.54,498.99 L102.75,499.17 L102.97,499.46 L103.18,499.84 L103.40,500.30 L103.61,500.84 L103.83,501.44 L104.04,502.10 L104.26,502.80 L104.47,503.53 L104.68,504.29 L104.90,505.06 L105.11,505.86 L105.33,506.85 L105.54,508.05 L105.76,509.43 L105.97,510.97 L106.19,512.65 L106.40,514.46 L106.62,516.36 L106.83,518.35 L107.04,520.39 L107.26,522.47 L107.47,524.57 L107.69,526.67 L107.90,528.74 L108.12,530.76 L108.33,532.72 L108.55,534.59 L108.76,536.36 L108.97,537.99 L109.19,539.48 L109.40,540.83 L109.62,542.19 L109.83,543.59 L110.05,545.01 L110.26,546.45 L110.48,547.89 L110.69,549.32 L110.91,550.73 L111.12,552.11 L111.33,553.46 L111.55,554.74 L111.76,555.97 L111.98,557.12 L112.19,558.19 L112.41,559.16 L112.62,560.03 L112.84,560.78 L113.05,561.40 L113.26,561.88 L113.48,562.21 L113.69,562.38 L113.91,562.38 L114.12,562.20 L114.34,561.86 L114.55,561.36 L114.77,560.73 L114.98,559.98 L115.20,559.12 L115.41,558.16 L115.62,557.12 L115.84,556.02 L116.05,554.87 L116.27,553.68 L116.48,552.47 L116.70,551.25 L116.91,550.04 L117.13,548.84 L117.34,547.58 L117.55,546.15 L117.77,544.58 L117.98,542.89 L118.20,541.10 L118.41,539.25 L118.63,537.34 L118.84,535.40 L119.06,533.46 L119.27,531.53 L119.48,529.64 L119.70,527.81 L119.91,526.06 L120.13,524.33 L120.34,522.54 L120.56,520.73 L120.77,518.92 L120.99,517.13 L121.20,515.39 L121.42,513.71 L121.63,512.12 L121.84,510.64 L122.06,509.31 L122.27,508.10 L122.49,506.88 L122.70,505.64 L122.92,504.40 L123.13,503.20 L123.35,502.05 L123.56,500.99 L123.78,500.04 L123.99,499.23 L124.20,498.58 L124.42,498.12 L124.63,497.88 L124.85,497.88 L125.06,498.14 L125.28,498.63 L125.49,499.32 L125.71,500.17 L125.92,501.16 L126.13,502.25 L126.35,503.42 L126.56,504.62 L126.78,505.83 L126.99,507.02 L127.21,508.16 L127.42,509.24 L127.64,510.41 L127.85,511.69 L128.06,513.04 L128.28,514.43 L128.49,515.86 L128.71,517.28 L128.92,518.68 L129.14,520.03 L129.35,521.30 L129.57,522.48 L129.78,523.53 L130.00,524.43 L130.21,525.26 L130.42,526.10 L130.64,526.94 L130.85,527.77 L131.07,528.58 L131.28,529.34 L131.50,530.05 L131.71,530.70 L131.93,531.28 L132.14,531.76 L132.36,532.14 L132.57,532.41 L132.78,532.55 L133.00,532.57 L133.21,532.55 L133.43,532.52 L133.64,532.48 L133.86,532.43 L134.07,532.36 L134.29,532.28 L134.50,532.19 L134.71,532.09 L134.93,531.97 L135.14,531.84 L135.36,531.71 L135.57,531.56 L135.79,531.36 L136.00,530.84 L136.22,530.02 L136.43,528.95 L136.64,527.68 L136.86,526.26 L137.07,524.76 L137.29,523.23 L137.50,521.72 L137.72,520.28 L137.93,518.97 L138.15,517.85 L138.36,516.92 L138.58,515.97 L138.79,514.99 L139.00,514.03 L139.22,513.13 L139.43,512.32 L139.65,511.65 L139.86,511.17 L140.08,510.90 L140.29,510.91 L140.51,511.25 L140.72,511.89 L140.94,512.76 L141.15,513.82 L141.36,515.02 L141.58,516.30 L141.79,517.61 L142.01,518.91 L142.22,520.13 L142.44,521.23 L142.65,522.18 L142.87,523.06 L143.08,523.92 L143.29,524.75 L143.51,525.57 L143.72,526.37 L143.94,527.17 L144.15,527.97 L144.37,528.79 L144.58,529.61 L144.80,530.46 L145.01,531.34 L145.22,532.25 L145.44,533.21 L145.65,534.21 L145.87,535.28 L146.08,536.42 L146.30,537.64 L146.51,538.92 L146.73,540.25 L146.94,541.63 L147.16,543.04 L147.37,544.48 L147.58,545.93 L147.80,547.38 L148.01,548.83 L148.23,550.27 L148.44,551.68 L148.66,553.05 L148.87,554.42 L149.09,555.98 L149.30,557.67 L149.51,559.42 L149.73,561.13 L149.94,562.73 L150.16,564.12 L150.37,565.22 L150.59,565.94 L150.80,566.20 L151.02,566.14 L151.23,565.96 L151.45,565.67 L151.66,565.28 L151.87,564.80 L152.09,564.24 L152.30,563.61 L152.52,562.92 L152.73,562.17 L152.95,561.39 L153.16,560.57 L153.38,559.72 L153.59,558.87 L153.81,558.01 L154.02,557.15 L154.23,556.31 L154.45,555.47 L154.66,554.54 L154.88,553.50 L155.09,552.38 L155.31,551.17 L155.52,549.90 L155.74,548.57 L155.95,547.20 L156.16,545.80 L156.38,544.39 L156.59,542.96 L156.81,541.55 L157.02,540.15 L157.24,538.78 L157.45,537.46 L157.67,536.19 L157.88,534.98 L158.09,533.86 L158.31,532.83 L158.52,531.90 L158.74,531.07 L158.95,530.25 L159.17,529.42 L159.38,528.59 L159.60,527.75 L159.81,526.92 L160.03,526.09 L160.24,525.28 L160.45,524.48 L160.67,523.69 L160.88,522.93 L161.10,522.19 L161.31,521.49 L161.53,520.81 L161.74,520.17 L161.96,519.57 L162.17,519.02 L162.38,518.51 L162.60,518.05 L162.81,517.65 L163.03,517.30 L163.24,517.02 L163.46,516.80 L163.67,516.65 L163.89,516.57 L164.10,516.57 L164.32,516.63 L164.53,516.74 L164.74,516.90 L164.96,517.11 L165.17,517.36 L165.39,517.65 L165.60,517.98 L165.82,518.34 L166.03,518.73 L166.25,519.15 L166.46,519.59 L166.67,520.06 L166.89,520.53 L167.10,521.03 L167.32,521.53 L167.53,522.04 L167.75,522.55 L167.96,523.07 L168.18,523.67 L168.39,524.36 L168.61,525.13 L168.82,525.97 L169.03,526.88 L169.25,527.84 L169.46,528.86 L169.68,529.91 L169.89,531.01 L170.11,532.13 L170.32,533.27 L170.54,534.43 L170.75,535.60 L170.96,536.76 L171.18,537.92 L171.39,539.07 L171.61,540.20 L171.82,541.30 L172.04,542.36 L172.25,543.39 L172.47,544.41 L172.68,545.43 L172.90,546.46 L173.11,547.49 L173.32,548.51 L173.54,549.55 L173.75,550.58 L173.97,551.61 L174.18,552.65 L174.40,553.68 L174.61,554.72 L174.83,555.76 L175.04,556.80 L175.25,557.85 L175.47,558.89 L175.68,559.94 L175.90,560.99 L176.11,562.04 L176.33,563.09 L176.54,564.14 L176.76,565.20 L176.97,566.25 L177.19,567.31 L177.40,568.37" stroke="#7d7ccc"/>
<path d="M48.70,548.84 L48.91,549.33 L49.13,549.79 L49.34,550.22 L49.56,550.61 L49.77,550.96 L49.99,551.27 L50.20,551.54 L50.42,551.75 L50.63,551.92 L50.84,552.03 L51.06,552.09 L51.27,552.09 L51.49,552.00 L51.70,551.85 L51.92,551.64 L52.13,551.39 L52.35,551.11 L52.56,550.81 L52.78,550.51 L52.99,550.22 L53.20,549.95 L53.42,549.72 L53.63,549.54 L53.85,549.43 L54.06,549.39 L54.28,549.39 L54.49,549.42 L54.71,549.47 L54.92,549.52 L55.14,549.59 L55.35,549.67 L55.56,549.76 L55.78,549.86 L55.99,549.96 L56.21,550.07 L56.42,550.18 L56.64,550.28 L56.85,550.39 L57.07,550.50 L57.28,550.59 L57.49,550.69 L57.71,550.77 L57.92,550.85 L58.14,550.91 L58.35,550.96 L58.57,550.99 L58.78,551.01 L59.00,551.01 L59.21,550.97 L59.42,550.91 L59.64,550.82 L59.85,550.71 L60.07,550.58 L60.28,550.45 L60.50,550.30 L60.71,550.15 L60.93,550.01 L61.14,549.87 L61.36,549.73 L61.57,549.62 L61.78,549.52 L62.00,549.45 L62.21,549.40 L62.43,549.39 L62.64,549.39 L62.86,549.39 L63.07,549.40 L63.29,549.42 L63.50,549.43 L63.72,549.45 L63.93,549.48 L64.14,549.51 L64.36,549.54 L64.57,549.58 L64.79,549.62 L65.00,549.66 L65.22,549.71 L65.43,549.76 L65.65,549.81 L65.86,549.87 L66.07,549.93 L66.29,550.15 L66.50,550.59 L66.72,551.20 L66.93,551.94 L67.15,552.77 L67.36,553.63 L67.58,554.49 L67.79,555.28 L68.00,555.98 L68.22,556.52 L68.43,556.87 L68.65,556.98 L68.86,556.95 L69.08,556.87 L69.29,556.76 L69.51,556.62 L69.72,556.45 L69.94,556.27 L70.15,556.07 L70.36,555.87 L70.58,555.68 L70.79,555.50 L71.01,555.33 L71.22,555.19 L71.44,555.07 L71.65,554.96 L71.87,554.85 L72.08,554.73 L72.30,554.59 L72.51,554.42 L72.72,554.22 L72.94,553.98 L73.15,553.67 L73.37,552.50 L73.58,550.16 L73.80,546.93 L74.01,543.09 L74.23,538.91 L74.44,534.68 L74.65,530.67 L74.87,527.16 L75.08,524.16 L75.30,520.97 L75.51,517.61 L75.73,514.23 L75.94,510.96 L76.16,507.92 L76.37,505.24 L76.59,503.04 L76.80,501.47 L77.01,500.65 L77.23,500.51 L77.44,500.44 L77.66,500.39 L77.87,500.35 L78.09,500.31 L78.30,500.29 L78.52,500.26 L78.73,500.24 L78.94,500.21 L79.16,500.18 L79.37,500.13 L79.59,500.08 L79.80,500.00 L80.02,499.76 L80.23,499.29 L80.45,498.64 L80.66,497.83 L80.88,496.90 L81.09,495.88 L81.30,494.80 L81.52,493.71 L81.73,492.62 L81.95,491.57 L82.16,490.61 L82.38,489.75 L82.59,489.03 L82.81,488.50 L83.02,488.17 L83.23,488.09 L83.45,488.34 L83.66,488.93 L83.88,489.83 L84.09,491.00 L84.31,492.40 L84.52,494.01 L84.74,495.77 L84.95,497.66 L85.16,499.64 L85.38,501.67 L85.59,503.72 L85.81,505.98 L86.02,509.01 L86.24,512.67 L86.45,516.77 L86.67,521.13 L86.88,525.55 L87.10,529.85 L87.31,533.85 L87.52,537.35 L87.74,540.16 L87.95,542.12 L88.17,543.72 L88.38,545.23 L88.60,546.65 L88.81,547.98 L89.03,549.22 L89.24,550.37 L89.45,551.43 L89.67,552.39 L89.88,553.26 L90.10,554.04 L90.31,554.71 L90.53,555.29 L90.74,555.78 L90.96,556.18 L91.17,556.58 L91.39,556.95 L91.60,557.30 L91.81,557.63 L92.03,557.91 L92.24,558.16 L92.46,558.36 L92.67,558.50 L92.89,558.59 L93.10,558.60 L93.32,558.38 L93.53,557.89 L93.75,557.15 L93.96,556.19 L94.17,555.03 L94.39,553.71 L94.60,552.24 L94.82,550.66 L95.03,549.00 L95.25,547.27 L95.46,545.50 L95.68,543.73 L95.89,541.98 L96.10,540.27 L96.32,538.64 L96.53,537.10 L96.75,535.70 L96.96,534.43 L97.18,533.20 L97.39,531.95 L97.61,530.68 L97.82,529.41 L98.03,528.16 L98.25,526.92 L98.46,525.71 L98.68,524.53 L98.89,523.40 L99.11,522.34 L99.32,521.33 L99.54,520.41 L99.75,519.56 L99.97,518.81 L100.18,518.07 L100.39,517.32 L100.61,516.57 L100.82,515.85 L101.04,515.18 L101.25,514.56 L101.47,514.03 L101.68,513.59 L101.90,513.27 L102.11,513.08 L102.33,513.04 L102.54,513.15 L102.75,513.39 L102.97,513.75 L103.18,514.21 L103.40,514.76 L103.61,515.38 L103.83,516.06 L104.04,516.80 L104.26,517.56 L104.47,518.35 L104.68,519.14 L104.90,519.93 L105.11,520.75 L105.33,521.71 L105.54,522.81 L105.76,524.02 L105.97,525.33 L106.19,526.73 L106.40,528.21 L106.62,529.73 L106.83,531.30 L107.04,532.90 L107.26,534.51 L107.47,536.11 L107.69,537.70 L107.90,539.25 L108.12,540.76 L108.33,542.20 L108.55,543.56 L108.76,544.83 L108.97,546.00 L109.19,547.03 L109.40,547.99 L109.62,548.97 L109.83,549.96 L110.05,550.95 L110.26,551.95 L110.48,552.94 L110.69,553.92 L110.91,554.88 L111.12,555.81 L111.33,556.71 L111.55,557.57 L111.76,558.38 L111.98,559.13 L112.19,559.83 L112.41,560.45 L112.62,561.00 L112.84,561.47 L113.05,561.86 L113.26,562.14 L113.48,562.33 L113.69,562.40 L113.91,562.34 L114.12,562.10 L114.34,561.71 L114.55,561.16 L114.77,560.49 L114.98,559.69 L115.20,558.80 L115.41,557.81 L115.62,556.75 L115.84,555.63 L116.05,554.46 L116.27,553.26 L116.48,552.04 L116.70,550.82 L116.91,549.61 L117.13,548.41 L117.34,547.05 L117.55,545.51 L117.77,543.82 L117.98,542.01 L118.20,540.11 L118.41,538.16 L118.63,536.18 L118.84,534.20 L119.06,532.27 L119.27,530.40 L119.48,528.64 L119.70,527.01 L119.91,525.53 L120.13,524.08 L120.34,522.65 L120.56,521.24 L120.77,519.87 L120.99,518.55 L121.20,517.29 L121.42,516.11 L121.63,515.01 L121.84,514.02 L122.06,513.14 L122.27,512.32 L122.49,511.50 L122.70,510.68 L122.92,509.87 L123.13,509.10 L123.35,508.38 L123.56,507.73 L123.78,507.16 L123.99,506.68 L124.20,506.32 L124.42,506.08 L124.63,505.99 L124.85,506.10 L125.06,506.50 L125.28,507.15 L125.49,508.00 L125.71,509.03 L125.92,510.21 L126.13,511.49 L126.35,512.85 L126.56,514.25 L126.78,515.65 L126.99,517.03 L127.21,518.34 L127.42,519.71 L127.64,521.31 L127.85,523.09 L128.06,525.00 L128.28,526.97 L128.49,528.96 L128.71,530.91 L128.92,532.76 L129.14,534.47 L129.35,535.97 L129.57,537.22 L129.78,538.16 L130.00,538.76 L130.21,539.24 L130.42,539.67 L130.64,540.05 L130.85,540.39 L131.07,540.70 L131.28,540.98 L131.50,541.24 L131.71,541.50 L131.93,541.75 L132.14,542.00 L132.36,542.26 L132.57,542.54 L132.78,542.85 L133.00,543.20 L133.21,543.60 L133.43,544.02 L133.64,544.46 L133.86,544.90 L134.07,545.32 L134.29,545.71 L134.50,546.05 L134.71,546.34 L134.93,546.54 L135.14,546.66 L135.36,546.62 L135.57,546.13 L135.79,545.18 L136.00,543.87 L136.22,542.25 L136.43,540.40 L136.64,538.41 L136.86,536.34 L137.07,534.28 L137.29,532.29 L137.50,530.44 L137.72,528.83 L137.93,527.27 L138.15,525.56 L138.36,523.74 L138.58,521.90 L138.79,520.09 L139.00,518.38 L139.22,516.84 L139.43,515.52 L139.65,514.49 L139.86,513.83 L140.08,513.58 L140.29,513.72 L140.51,514.13 L140.72,514.76 L140.94,515.57 L141.15,516.53 L141.36,517.58 L141.58,518.68 L141.79,519.80 L142.01,520.88 L142.22,521.90 L142.44,522.79 L142.65,523.61 L142.87,524.42 L143.08,525.23 L143.29,526.04 L143.51,526.85 L143.72,527.65 L143.94,528.45 L144.15,529.25 L144.37,530.04 L144.58,530.83 L144.80,531.62 L145.01,532.41 L145.22,533.19 L145.44,533.96 L145.65,534.74 L145.87,535.28 L146.08,536.42 L146.30,537.64 L146.51,538.92 L146.73,540.25 L146.94,541.63 L147.16,543.04 L147.37,544.48 L147.58,545.93 L147.80,547.38 L148.01,548.83 L148.23,550.27 L148.44,551.68 L148.66,553.05 L148.87,554.42 L149.09,555.98 L149.30,557.67 L149.51,559.42 L149.73,561.13 L149.94,562.73 L150.16,564.12 L150.37,565.22 L150.59,565.94 L150.80,566.20 L151.02,566.14 L151.23,565.96 L151.45,565.67 L151.66,565.28 L151.87,564.80 L152.09,564.24 L152.30,563.61 L152.52,562.92 L152.73,562.17 L152.95,561.39 L153.16,560.57 L153.38,559.72 L153.59,558.87 L153.81,558.01 L154.02,557.15 L154.23,556.31 L154.45,555.47 L154.66,554.54 L154.88,553.50 L155.09,552.38 L155.31,551.17 L155.52,549.90 L155.74,548.57 L155.95,547.20 L156.16,545.80 L156.38,544.39 L156.59,542.96 L156.81,541.55 L157.02,540.15 L157.24,538.78 L157.45,537.46 L157.67,536.19 L157.88,534.98 L158.09,533.86 L158.31,532.83 L158.52,531.90 L158.74,531.07 L158.95,530.25 L159.17,529.42 L159.38,528.59 L159.60,527.75 L159.81,526.92 L160.03,526.09 L160.24,525.28 L160.45,524.48 L160.67,523.69 L160.88,522.93 L161.10,522.19 L161.31,521.49 L161.53,520.81 L161.74,520.17 L161.96,519.57 L162.17,519.02 L162.38,518.51 L162.60,518.05 L162.81,517.65 L163.03,517.30 L163.24,517.02 L163.46,516.80 L163.67,516.65 L163.89,516.57 L164.10,516.57 L164.32,516.63 L164.53,516.74 L164.74,516.90 L164.96,517.11 L165.17,517.36 L165.39,517.65 L165.60,517.98 L165.82,518.34 L166.03,518.73 L166.25,519.15 L166.46,519.59 L166.67,520.06 L166.89,520.53 L167.10,521.03 L167.32,521.53 L167.53,522.04 L167.75,522.55 L167.96,523.07 L168.18,523.67 L168.39,524.36 L168.61,525.13 L168.82,525.97 L169.03,526.88 L169.25,527.84 L169.46,528.86 L169.68,529.91 L169.89,531.01 L170.11,532.13 L170.32,533.27 L170.54,534.43 L170.75,535.60 L170.96,536.76 L171.18,537.92 L171.39,539.07 L171.61,540.20 L171.82,541.30 L172.04,542.36 L172.25,543.39 L172.47,544.41 L172.68,545.43 L172.90,546.46 L173.11,547.49 L173.32,548.51 L173.54,549.55 L173.75,550.58 L173.97,551.61 L174.18,552.65 L174.40,553.68 L174.61,554.72 L174.83,555.76 L175.04,556.80 L175.25,557.85 L175.47,558.89 L175.68,559.94 L175.90,560.99 L176.11,562.04 L176.33,563.09 L176.54,564.14 L176.76,565.20 L176.97,566.25 L177.19,567.31 L177.40,568.37" stroke="#f0855a"/>
<path d="M57.49,550.18 L57.71,550.39 L57.92,550.58 L58.14,550.74 L58.35,550.87 L58.57,550.96 L58.78,551.01 L59.00,551.01 L59.21,550.97 L59.42,550.89 L59.64,550.79 L59.85,550.66 L60.07,550.52 L60.28,550.36 L60.50,550.19 L60.71,550.02 L60.93,549.84 L61.14,549.68 L61.36,549.53 L61.57,549.39 L61.78,549.28 L62.00,549.19 L62.21,549.13 L62.43,549.11 L62.64,549.12 L62.86,549.12 L63.07,549.13 L63.29,549.14 L63.50,549.16 L63.72,549.18 L63.93,549.21 L64.14,549.24 L64.36,549.27 L64.57,549.30 L64.79,549.34 L65.00,549.39 L65.22,549.43 L65.43,549.48 L65.65,549.54 L65.86,549.60 L66.07,549.66 L66.29,549.84 L66.50,550.20 L66.72,550.71 L66.93,551.33 L67.15,552.03 L67.36,552.77 L67.58,553.52 L67.79,554.24 L68.00,554.90 L68.22,555.47 L68.43,555.90 L68.65,556.17 L68.86,556.34 L69.08,556.50 L69.29,556.65 L69.51,556.77 L69.72,556.88" stroke="#c3525a"/>
<path d="M72.94,554.49 L73.15,553.97 L73.37,552.84 L73.58,550.84 L73.80,548.17 L74.01,545.01" stroke="#c3525a"/>
<path d="M75.30,525.77 L75.51,522.49 L75.73,519.11 L75.94,515.78 L76.16,512.66 L76.37,509.87" stroke="#c3525a"/>
<path d="M86.88,528.09 L87.10,531.79 L87.31,535.23 L87.52,538.25 L87.74,540.72 L87.95,542.50 L88.17,543.94 L88.38,545.32 L88.60,546.65 L88.81,547.91 L89.03,549.09 L89.24,550.19 L89.45,551.20 L89.67,552.12 L89.88,552.93 L90.10,553.63 L90.31,554.22 L90.53,554.68 L90.74,555.01 L90.96,555.22 L91.17,555.40" stroke="#c3525a"/>
<path d="M93.96,553.61 L94.17,552.60 L94.39,551.36 L94.60,549.92 L94.82,548.31 L95.03,546.57 L95.25,544.73 L95.46,542.82 L95.68,540.88 L95.89,538.93" stroke="#c3525a"/>
<path d="M110.48,550.42 L110.69,551.62 L110.91,552.81 L111.12,553.96 L111.33,555.08 L111.55,556.15 L111.76,557.17 L111.98,558.13 L112.19,559.01 L112.41,559.81 L112.62,560.52 L112.84,561.13 L113.05,561.63 L113.26,562.01 L113.48,562.27 L113.69,562.39 L113.91,562.36 L114.12,562.15 L114.34,561.78 L114.55,561.26 L114.77,560.61 L114.98,559.84 L115.20,558.96 L115.41,557.99 L115.62,556.94 L115.84,555.83 L116.05,554.67 L116.27,553.47 L116.48,552.26 L116.70,551.04 L116.91,549.82 L117.13,548.63 L117.34,547.31 L117.55,545.83 L117.77,544.20 L117.98,542.45 L118.20,540.61 L118.41,538.70 L118.63,536.76 L118.84,534.80 L119.06,532.86 L119.27,530.97 L119.48,529.14 L119.70,527.41 L119.91,525.79 L120.13,524.20 L120.34,522.60 L120.56,520.99 L120.77,519.40 L120.99,517.84 L121.20,516.34 L121.42,514.91 L121.63,513.56 L121.84,512.33 L122.06,511.22" stroke="#c3525a"/>
<path d="M137.50,526.08 L137.72,524.56" stroke="#c3525a"/>
<path d="M138.15,521.70 L138.36,520.33 L138.58,518.94 L138.79,517.54 L139.00,516.21 L139.22,514.98" stroke="#c3525a"/>
<path d="M141.15,515.17 L141.36,516.30 L141.58,517.49 L141.79,518.71 L142.01,519.90 L142.22,521.01 L142.44,522.01 L142.65,522.89 L142.87,523.74 L143.08,524.58 L143.29,525.40 L143.51,526.21 L143.72,527.01 L143.94,527.81 L144.15,528.61 L144.37,529.41 L144.58,530.22 L144.80,531.04 L145.01,531.87 L145.22,532.72 L145.44,533.59 L145.65,534.48 L145.87,535.28 L146.08,536.42 L146.30,537.64 L146.51,538.92 L146.73,540.25 L146.94,541.63 L147.16,543.04 L147.37,544.48 L147.58,545.93 L147.80,547.38 L148.01,548.83 L148.23,550.27 L148.44,551.68 L148.66,553.05 L148.87,554.42 L149.09,555.98 L149.30,557.67 L149.51,559.42 L149.73,561.13 L149.94,562.73 L150.16,564.12 L150.37,565.22 L150.59,565.94 L150.80,566.20 L151.02,566.14 L151.23,565.96 L151.45,565.67 L151.66,565.28 L151.87,564.80 L152.09,564.24 L152.30,563.61 L152.52,562.92 L152.73,562.17 L152.95,561.39 L153.16,560.57 L153.38,559.72 L153.59,558.87 L153.81,558.01 L154.02,557.15 L154.23,556.31 L154.45,555.47 L154.66,554.54 L154.88,553.50 L155.09,552.38 L155.31,551.17 L155.52,549.90 L155.74,548.57 L155.95,547.20 L156.16,545.80 L156.38,544.39 L156.59,542.96 L156.81,541.55 L157.02,540.15 L157.24,538.78 L157.45,537.46 L157.67,536.19 L157.88,534.98 L158.09,533.86 L158.31,532.83 L158.52,531.90 L158.74,531.07 L158.95,530.25 L159.17,529.42 L159.38,528.59 L159.60,527.75 L159.81,526.92 L160.03,526.09 L160.24,525.28 L160.45,524.48 L160.67,523.69 L160.88,522.93 L161.10,522.19 L161.31,521.49 L161.53,520.81 L161.74,520.17 L161.96,519.57 L162.17,519.02 L162.38,518.51 L162.60,518.05 L162.81,517.65 L163.03,517.30 L163.24,517.02 L163.46,516.80 L163.67,516.65 L163.89,516.57 L164.10,516.57 L164.32,516.63 L164.53,516.74 L164.74,516.90 L164.96,517.11 L165.17,517.36 L165.39,517.65 L165.60,517.98 L165.82,518.34 L166.03,518.73 L166.25,519.15 L166.46,519.59 L166.67,520.06 L166.89,520.53 L167.10,521.03 L167.32,521.53 L167.53,522.04 L167.75,522.55 L167.96,523.07 L168.18,523.67 L168.39,524.36 L168.61,525.13 L168.82,525.97 L169.03,526.88 L169.25,527.84 L169.46,528.86 L169.68,529.91 L169.89,531.01 L170.11,532.13 L170.32,533.27 L170.54,534.43 L170.75,535.60 L170.96,536.76 L171.18,537.92 L171.39,539.07 L171.61,540.20 L171.82,541.30 L172.04,542.36 L172.25,543.39 L172.47,544.41 L172.68,545.43 L172.90,546.46 L173.11,547.49 L173.32,548.51 L173.54,549.55 L173.75,550.58 L173.97,551.61 L174.18,552.65 L174.40,553.68 L174.61,554.72 L174.83,555.76 L175.04,556.80 L175.25,557.85 L175.47,558.89 L175.68,559.94 L175.90,560.99 L176.11,562.04 L176.33,563.09 L176.54,564.14 L176.76,565.20 L176.97,566.25 L177.19,567.31 L177.40,568.37" stroke="#c3525a"/>
</g>
<rect x="223.1" y="483.2" width="128.4" height="86.80000000000001" fill="none" stroke="#555" stroke-width="1"/>
<line x1="244.50" y1="570.0" x2="244.50" y2="568.4" stroke="#555" stroke-width="0.9"/>
<line x1="244.50" y1="483.2" x2="244.50" y2="484.8" stroke="#555" stroke-width="0.9"/>
<line x1="265.90" y1="570.0" x2="265.90" y2="568.4" stroke="#555" stroke-width="0.9"/>
<line x1="265.90" y1="483.2" x2="265.90" y2="484.8" stroke="#555" stroke-width="0.9"/>
<line x1="287.30" y1="570.0" x2="287.30" y2="568.4" stroke="#555" stroke-width="0.9"/>
<line x1="287.30" y1="483.2" x2="287.30" y2="484.8" stroke="#555" stroke-width="0.9"/>
<line x1="308.70" y1="570.0" x2="308.70" y2="568.4" stroke="#555" stroke-width="0.9"/>
<line x1="308.70" y1="483.2" x2="308.70" y2="484.8" stroke="#555" stroke-width="0.9"/>
<line x1="330.10" y1="570.0" x2="330.10" y2="568.4" stroke="#555" stroke-width="0.9"/>
<line x1="330.10" y1="483.2" x2="330.10" y2="484.8" stroke="#555" stroke-width="0.9"/>
<line x1="223.1" y1="570.00" x2="224.7" y2="570.00" stroke="#555" stroke-width="0.9"/>
<line x1="351.5" y1="570.00" x2="349.9" y2="570.00" stroke="#555" stroke-width="0.9"/>
<text x="217.9" y="573.9" font-size="10.9" text-anchor="end" fill="#333" >0</text>
<line x1="223.1" y1="542.88" x2="224.7" y2="542.88" stroke="#555" stroke-width="0.9"/>
<line x1="351.5" y1="542.88" x2="349.9" y2="542.88" stroke="#555" stroke-width="0.9"/>
<text x="217.9" y="546.775" font-size="10.9" text-anchor="end" fill="#333" >0.5</text>
<line x1="223.1" y1="515.75" x2="224.7" y2="515.75" stroke="#555" stroke-width="0.9"/>
<line x1="351.5" y1="515.75" x2="349.9" y2="515.75" stroke="#555" stroke-width="0.9"/>
<text x="217.9" y="519.65" font-size="10.9" text-anchor="end" fill="#333" >1</text>
<line x1="223.1" y1="488.62" x2="224.7" y2="488.62" stroke="#555" stroke-width="0.9"/>
<line x1="351.5" y1="488.62" x2="349.9" y2="488.62" stroke="#555" stroke-width="0.9"/>
<text x="217.9" y="492.525" font-size="10.9" text-anchor="end" fill="#333" >1.5</text>
<text x="244.5" y="586.7" font-size="10.9" text-anchor="middle" fill="#333" >800</text>
<text x="287.3" y="586.7" font-size="10.9" text-anchor="middle" fill="#333" >1200</text>
<text x="330.1" y="586.7" font-size="10.9" text-anchor="middle" fill="#333" >1600</text>
<text x="284.1" y="478.3" font-size="11.6" text-anchor="middle" fill="#333" >Spatial offset - 12 mm</text>
<text x="287.30" y="606.20" font-size="12.3" text-anchor="middle" fill="#333">Wavenumber (cm<tspan font-size="7.6" dy="-6" dx="0.6">-</tspan><tspan font-size="7.6" dx="1.6">1</tspan><tspan dy="6" dx="1">)</tspan></text>
<text x="0" y="0" font-size="12.3" text-anchor="middle" fill="#333" transform="translate(197.40,526.60) rotate(-90)">Intensity(a.u)</text>
<clipPath id="c223483"><rect x="223.1" y="483.2" width="128.4" height="86.80000000000001"/></clipPath>
<g clip-path="url(#c223483)" fill="none" stroke-width="2" stroke-linejoin="round" stroke-linecap="round">
<path d="M223.10,542.88 L223.31,543.34 L223.53,543.79 L223.74,544.23 L223.96,544.66 L224.17,545.06 L224.38,545.42 L224.60,545.76 L224.81,546.05 L225.03,546.30 L225.24,546.49 L225.45,546.63 L225.67,546.71 L225.88,546.77 L226.10,546.82 L226.31,546.86 L226.52,546.90 L226.74,546.93 L226.95,546.96 L227.17,546.98 L227.38,547.01 L227.59,547.04 L227.81,547.07 L228.02,547.11 L228.24,547.16 L228.45,547.22 L228.66,547.29 L228.88,547.38 L229.09,547.49 L229.31,547.62 L229.52,547.75 L229.73,547.90 L229.95,548.04 L230.16,548.19 L230.38,548.34 L230.59,548.48 L230.80,548.61 L231.02,548.74 L231.23,548.84 L231.45,548.94 L231.66,549.05 L231.87,549.16 L232.09,549.27 L232.30,549.37 L232.52,549.48 L232.73,549.57 L232.94,549.66 L233.16,549.74 L233.37,549.81 L233.59,549.87 L233.80,549.90 L234.01,549.92 L234.23,549.92 L234.44,549.85 L234.66,549.73 L234.87,549.57 L235.08,549.36 L235.30,549.14 L235.51,548.90 L235.73,548.66 L235.94,548.43 L236.15,548.22 L236.37,548.03 L236.58,547.89 L236.80,547.79 L237.01,547.76 L237.22,547.80 L237.44,547.91 L237.65,548.08 L237.87,548.31 L238.08,548.59 L238.29,548.90 L238.51,549.25 L238.72,549.62 L238.94,550.01 L239.15,550.41 L239.36,550.80 L239.58,551.19 L239.79,551.55 L240.01,551.93 L240.22,552.35 L240.43,552.79 L240.65,553.26 L240.86,553.75 L241.08,554.25 L241.29,554.76 L241.50,555.27 L241.72,555.78 L241.93,556.27 L242.15,556.76 L242.36,557.22 L242.57,557.66 L242.79,558.07 L243.00,558.47 L243.22,558.90 L243.43,559.34 L243.64,559.79 L243.86,560.23 L244.07,560.66 L244.29,561.06 L244.50,561.43 L244.71,561.76 L244.93,562.02 L245.14,562.23 L245.36,562.36 L245.57,562.40 L245.78,562.38 L246.00,562.31 L246.21,562.19 L246.43,562.03 L246.64,561.83 L246.85,561.59 L247.07,561.30 L247.28,560.98 L247.50,560.63 L247.71,560.24 L247.92,559.17 L248.14,556.94 L248.35,553.80 L248.57,550.00 L248.78,545.78 L248.99,541.40 L249.21,537.09 L249.42,533.12 L249.64,529.72 L249.85,527.14 L250.06,525.03 L250.28,522.90 L250.49,520.80 L250.71,518.80 L250.92,516.94 L251.13,515.30 L251.35,513.92 L251.56,512.87 L251.78,512.19 L251.99,511.95 L252.20,511.98 L252.42,512.07 L252.63,512.19 L252.85,512.33 L253.06,512.50 L253.27,512.66 L253.49,512.80 L253.70,512.92 L253.92,513.01 L254.13,513.04 L254.34,512.90 L254.56,512.53 L254.77,511.96 L254.99,511.22 L255.20,510.35 L255.41,509.41 L255.63,508.41 L255.84,507.40 L256.06,506.42 L256.27,505.51 L256.48,504.70 L256.70,504.04 L256.91,503.56 L257.13,503.31 L257.34,503.32 L257.55,503.67 L257.77,504.33 L257.98,505.26 L258.20,506.42 L258.41,507.76 L258.62,509.24 L258.84,510.82 L259.05,512.46 L259.27,514.12 L259.48,515.75 L259.69,517.57 L259.91,519.78 L260.12,522.30 L260.34,525.05 L260.55,527.96 L260.76,530.94 L260.98,533.92 L261.19,536.83 L261.41,539.58 L261.62,542.10 L261.83,544.31 L262.05,546.13 L262.26,547.77 L262.48,549.43 L262.69,551.08 L262.90,552.64 L263.12,554.08 L263.33,555.33 L263.55,556.35 L263.76,557.08 L263.97,557.47 L264.19,557.52 L264.40,557.52 L264.62,557.52 L264.83,557.52 L265.04,557.52 L265.26,557.52 L265.47,557.52 L265.69,557.52 L265.90,557.52 L266.11,557.52 L266.33,557.52 L266.54,557.52 L266.76,557.52 L266.97,557.52 L267.18,557.41 L267.40,557.08 L267.61,556.56 L267.83,555.87 L268.04,555.02 L268.25,554.05 L268.47,552.96 L268.68,551.77 L268.90,550.52 L269.11,549.21 L269.32,547.87 L269.54,546.51 L269.75,545.17 L269.97,543.80 L270.18,542.15 L270.39,540.21 L270.61,538.03 L270.82,535.66 L271.04,533.13 L271.25,530.50 L271.46,527.82 L271.68,525.12 L271.89,522.46 L272.11,519.88 L272.32,517.43 L272.53,515.15 L272.75,513.09 L272.96,511.30 L273.18,509.82 L273.39,508.70 L273.60,507.77 L273.82,506.87 L274.03,505.98 L274.25,505.13 L274.46,504.31 L274.67,503.53 L274.89,502.80 L275.10,502.12 L275.32,501.51 L275.53,500.97 L275.74,500.49 L275.96,500.11 L276.17,499.80 L276.39,499.60 L276.60,499.49 L276.81,499.49 L277.03,499.64 L277.24,499.93 L277.46,500.34 L277.67,500.86 L277.88,501.49 L278.10,502.20 L278.31,502.99 L278.53,503.85 L278.74,504.76 L278.95,505.71 L279.17,506.69 L279.38,507.69 L279.60,508.70 L279.81,509.85 L280.02,511.28 L280.24,512.95 L280.45,514.83 L280.67,516.90 L280.88,519.11 L281.09,521.43 L281.31,523.83 L281.52,526.29 L281.74,528.76 L281.95,531.21 L282.16,533.61 L282.38,535.93 L282.59,538.14 L282.81,540.20 L283.02,542.09 L283.23,543.76 L283.45,545.22 L283.66,546.68 L283.88,548.17 L284.09,549.66 L284.30,551.16 L284.52,552.65 L284.73,554.12 L284.95,555.55 L285.16,556.94 L285.37,558.28 L285.59,559.55 L285.80,560.74 L286.02,561.85 L286.23,562.85 L286.44,563.75 L286.66,564.52 L286.87,565.16 L287.09,565.66 L287.30,566.00 L287.51,566.18 L287.73,566.19 L287.94,566.05 L288.16,565.80 L288.37,565.42 L288.58,564.94 L288.80,564.36 L289.01,563.68 L289.23,562.93 L289.44,562.09 L289.65,561.20 L289.87,560.24 L290.08,559.23 L290.30,558.19 L290.51,557.11 L290.72,556.00 L290.94,554.88 L291.15,553.75 L291.37,552.58 L291.58,551.13 L291.79,549.42 L292.01,547.49 L292.22,545.39 L292.44,543.16 L292.65,540.85 L292.86,538.51 L293.08,536.18 L293.29,533.91 L293.51,531.76 L293.72,529.75 L293.93,527.95 L294.15,526.37 L294.36,524.84 L294.58,523.35 L294.79,521.91 L295.00,520.51 L295.22,519.16 L295.43,517.88 L295.65,516.66 L295.86,515.52 L296.07,514.46 L296.29,513.49 L296.50,512.59 L296.72,511.68 L296.93,510.75 L297.14,509.84 L297.36,508.97 L297.57,508.16 L297.79,507.45 L298.00,506.84 L298.21,506.38 L298.43,506.09 L298.64,505.99 L298.86,506.06 L299.07,506.29 L299.28,506.66 L299.50,507.14 L299.71,507.73 L299.93,508.40 L300.14,509.15 L300.35,509.96 L300.57,510.81 L300.78,511.69 L301.00,512.59 L301.21,513.54 L301.42,514.84 L301.64,516.48 L301.85,518.37 L302.07,520.43 L302.28,522.57 L302.49,524.73 L302.71,526.81 L302.92,528.74 L303.14,530.43 L303.35,531.81 L303.56,532.79 L303.78,533.36 L303.99,533.80 L304.21,534.19 L304.42,534.53 L304.63,534.83 L304.85,535.10 L305.06,535.34 L305.28,535.57 L305.49,535.79 L305.70,536.00 L305.92,536.22 L306.13,536.44 L306.35,536.69 L306.56,536.97 L306.77,537.28 L306.99,537.64 L307.20,538.10 L307.42,538.62 L307.63,539.19 L307.84,539.77 L308.06,540.34 L308.27,540.85 L308.49,541.28 L308.70,541.59 L308.91,541.77 L309.13,541.75 L309.34,541.43 L309.56,540.83 L309.77,539.99 L309.98,538.95 L310.20,537.75 L310.41,536.42 L310.63,535.02 L310.84,533.58 L311.05,532.13 L311.27,530.73 L311.48,529.40 L311.70,528.19 L311.91,527.14 L312.12,526.14 L312.34,525.08 L312.55,523.96 L312.77,522.83 L312.98,521.69 L313.19,520.57 L313.41,519.50 L313.62,518.50 L313.84,517.59 L314.05,516.79 L314.26,516.13 L314.48,515.63 L314.69,515.32 L314.91,515.21 L315.12,515.31 L315.33,515.62 L315.55,516.09 L315.76,516.70 L315.98,517.43 L316.19,518.25 L316.40,519.14 L316.62,520.06 L316.83,521.00 L317.05,521.92 L317.26,522.80 L317.47,523.69 L317.69,524.65 L317.90,525.67 L318.12,526.74 L318.33,527.86 L318.54,529.02 L318.76,530.21 L318.97,531.43 L319.19,532.67 L319.40,533.92 L319.61,535.18 L319.83,536.45 L320.04,537.70 L320.26,538.94 L320.47,540.16 L320.68,541.40 L320.90,542.69 L321.11,544.02 L321.33,545.37 L321.54,546.75 L321.75,548.13 L321.97,549.51 L322.18,550.88 L322.40,552.22 L322.61,553.52 L322.82,554.78 L323.04,555.99 L323.25,557.12 L323.47,558.18 L323.68,559.15 L323.89,560.10 L324.11,561.09 L324.32,562.10 L324.54,563.09 L324.75,564.04 L324.96,564.91 L325.18,565.69 L325.39,566.35 L325.61,566.85 L325.82,567.17 L326.03,567.29 L326.25,567.25 L326.46,567.12 L326.68,566.93 L326.89,566.67 L327.10,566.34 L327.32,565.95 L327.53,565.52 L327.75,565.03 L327.96,564.51 L328.17,563.95 L328.39,563.35 L328.60,562.74 L328.82,562.10 L329.03,561.45 L329.24,560.80 L329.46,560.13 L329.67,559.48 L329.89,558.81 L330.10,558.06 L330.31,557.23 L330.53,556.30 L330.74,555.31 L330.96,554.25 L331.17,553.13 L331.38,551.96 L331.60,550.75 L331.81,549.50 L332.03,548.23 L332.24,546.93 L332.45,545.63 L332.67,544.33 L332.88,543.03 L333.10,541.74 L333.31,540.47 L333.52,539.24 L333.74,538.04 L333.95,536.88 L334.17,535.78 L334.38,534.74 L334.59,533.70 L334.81,532.60 L335.02,531.45 L335.24,530.27 L335.45,529.06 L335.66,527.85 L335.88,526.64 L336.09,525.44 L336.31,524.26 L336.52,523.13 L336.73,522.05 L336.95,521.03 L337.16,520.08 L337.38,519.22 L337.59,518.46 L337.80,517.81 L338.02,517.28 L338.23,516.89 L338.45,516.65 L338.66,516.56 L338.87,516.59 L339.09,516.66 L339.30,516.77 L339.52,516.92 L339.73,517.11 L339.94,517.33 L340.16,517.59 L340.37,517.88 L340.59,518.20 L340.80,518.54 L341.01,518.90 L341.23,519.29 L341.44,519.69 L341.66,520.11 L341.87,520.54 L342.08,520.98 L342.30,521.43 L342.51,521.89 L342.73,522.34 L342.94,522.80 L343.15,523.29 L343.37,523.83 L343.58,524.43 L343.80,525.08 L344.01,525.77 L344.22,526.51 L344.44,527.30 L344.65,528.12 L344.87,528.98 L345.08,529.88 L345.29,530.81 L345.51,531.76 L345.72,532.74 L345.94,533.75 L346.15,534.78 L346.36,535.83 L346.58,536.89 L346.79,537.96 L347.01,539.05 L347.22,540.14 L347.43,541.24 L347.65,542.35 L347.86,543.49 L348.08,544.68 L348.29,545.91 L348.50,547.18 L348.72,548.49 L348.93,549.83 L349.15,551.21 L349.36,552.63 L349.57,554.08 L349.79,555.56 L350.00,557.07 L350.22,558.61 L350.43,560.17 L350.64,561.77 L350.86,563.39 L351.07,565.03 L351.29,566.69 L351.50,568.37" stroke="#7d7ccc"/>
<path d="M223.10,549.93 L223.31,550.01 L223.53,550.09 L223.74,550.16 L223.96,550.23 L224.17,550.29 L224.38,550.34 L224.60,550.38 L224.81,550.41 L225.03,550.44 L225.24,550.46 L225.45,550.47 L225.67,550.47 L225.88,550.46 L226.10,550.45 L226.31,550.42 L226.52,550.39 L226.74,550.36 L226.95,550.32 L227.17,550.27 L227.38,550.22 L227.59,550.17 L227.81,550.11 L228.02,550.05 L228.24,549.99 L228.45,549.93 L228.66,549.84 L228.88,549.70 L229.09,549.52 L229.31,549.31 L229.52,549.09 L229.73,548.85 L229.95,548.62 L230.16,548.40 L230.38,548.19 L230.59,548.02 L230.80,547.88 L231.02,547.79 L231.23,547.76 L231.45,547.79 L231.66,547.89 L231.87,548.03 L232.09,548.22 L232.30,548.43 L232.52,548.66 L232.73,548.90 L232.94,549.14 L233.16,549.36 L233.37,549.57 L233.59,549.73 L233.80,549.85 L234.01,549.92 L234.23,549.92 L234.44,549.84 L234.66,549.69 L234.87,549.48 L235.08,549.22 L235.30,548.94 L235.51,548.62 L235.73,548.30 L235.94,547.98 L236.15,547.66 L236.37,547.38 L236.58,547.12 L236.80,546.91 L237.01,546.76 L237.22,546.68 L237.44,546.68 L237.65,546.76 L237.87,546.91 L238.08,547.12 L238.29,547.38 L238.51,547.69 L238.72,548.03 L238.94,548.39 L239.15,548.78 L239.36,549.16 L239.58,549.55 L239.79,549.93 L240.01,550.32 L240.22,550.77 L240.43,551.27 L240.65,551.80 L240.86,552.36 L241.08,552.95 L241.29,553.55 L241.50,554.15 L241.72,554.76 L241.93,555.36 L242.15,555.94 L242.36,556.50 L242.57,557.03 L242.79,557.52 L243.00,558.02 L243.22,558.54 L243.43,559.09 L243.64,559.65 L243.86,560.20 L244.07,560.74 L244.29,561.25 L244.50,561.71 L244.71,562.12 L244.93,562.46 L245.14,562.72 L245.36,562.89 L245.57,562.95 L245.78,562.92 L246.00,562.83 L246.21,562.68 L246.43,562.48 L246.64,562.22 L246.85,561.92 L247.07,561.56 L247.28,561.16 L247.50,560.72 L247.71,560.24 L247.92,558.99 L248.14,556.45 L248.35,552.90 L248.57,548.61 L248.78,543.85 L248.99,538.91 L249.21,534.06 L249.42,529.57 L249.64,525.73 L249.85,522.80 L250.06,520.40 L250.28,517.96 L250.49,515.57 L250.71,513.28 L250.92,511.16 L251.13,509.28 L251.35,507.70 L251.56,506.49 L251.78,505.72 L251.99,505.44 L252.20,505.53 L252.42,505.78 L252.63,506.15 L252.85,506.59 L253.06,507.07 L253.27,507.55 L253.49,507.99 L253.70,508.36 L253.92,508.61 L254.13,508.70 L254.34,508.51 L254.56,508.00 L254.77,507.20 L254.99,506.15 L255.20,504.92 L255.41,503.55 L255.63,502.08 L255.84,500.56 L256.06,499.04 L256.27,497.57 L256.48,496.20 L256.70,494.97 L256.91,493.92 L257.13,493.12 L257.34,492.61 L257.55,492.42 L257.77,492.63 L257.98,493.22 L258.20,494.16 L258.41,495.39 L258.62,496.88 L258.84,498.58 L259.05,500.44 L259.27,502.43 L259.48,504.50 L259.69,506.60 L259.91,508.70 L260.12,511.13 L260.34,514.17 L260.55,517.67 L260.76,521.49 L260.98,525.48 L261.19,529.49 L261.41,533.38 L261.62,537.01 L261.83,540.22 L262.05,542.88 L262.26,545.20 L262.48,547.51 L262.69,549.76 L262.90,551.89 L263.12,553.87 L263.33,555.65 L263.55,557.19 L263.76,558.44 L263.97,559.37 L264.19,559.97 L264.40,560.49 L264.62,560.98 L264.83,561.43 L265.04,561.83 L265.26,562.18 L265.47,562.47 L265.69,562.70 L265.90,562.86 L266.11,562.94 L266.33,562.93 L266.54,562.82 L266.76,562.59 L266.97,562.27 L267.18,561.85 L267.40,561.34 L267.61,560.75 L267.83,560.09 L268.04,559.36 L268.25,558.58 L268.47,557.74 L268.68,556.86 L268.90,555.95 L269.11,555.00 L269.32,554.03 L269.54,553.05 L269.75,552.05 L269.97,551.02 L270.18,549.71 L270.39,548.12 L270.61,546.30 L270.82,544.29 L271.04,542.12 L271.25,539.84 L271.46,537.50 L271.68,535.12 L271.89,532.76 L272.11,530.45 L272.32,528.25 L272.53,526.17 L272.75,524.28 L272.96,522.61 L273.18,521.20 L273.39,520.09 L273.60,519.15 L273.82,518.21 L274.03,517.30 L274.25,516.40 L274.46,515.54 L274.67,514.71 L274.89,513.93 L275.10,513.21 L275.32,512.55 L275.53,511.95 L275.74,511.44 L275.96,511.02 L276.17,510.69 L276.39,510.46 L276.60,510.34 L276.81,510.34 L277.03,510.45 L277.24,510.67 L277.46,510.98 L277.67,511.37 L277.88,511.84 L278.10,512.39 L278.31,512.99 L278.53,513.64 L278.74,514.34 L278.95,515.07 L279.17,515.82 L279.38,516.60 L279.60,517.38 L279.81,518.29 L280.02,519.44 L280.24,520.79 L280.45,522.34 L280.67,524.04 L280.88,525.86 L281.09,527.79 L281.31,529.79 L281.52,531.84 L281.74,533.90 L281.95,535.96 L282.16,537.98 L282.38,539.94 L282.59,541.80 L282.81,543.55 L283.02,545.15 L283.23,546.58 L283.45,547.83 L283.66,549.09 L283.88,550.38 L284.09,551.68 L284.30,552.98 L284.52,554.28 L284.73,555.56 L284.95,556.82 L285.16,558.04 L285.37,559.21 L285.59,560.33 L285.80,561.38 L286.02,562.35 L286.23,563.24 L286.44,564.03 L286.66,564.71 L286.87,565.28 L287.09,565.72 L287.30,566.03 L287.51,566.18 L287.73,566.19 L287.94,566.05 L288.16,565.80 L288.37,565.42 L288.58,564.94 L288.80,564.36 L289.01,563.68 L289.23,562.93 L289.44,562.09 L289.65,561.20 L289.87,560.24 L290.08,559.23 L290.30,558.19 L290.51,557.11 L290.72,556.00 L290.94,554.88 L291.15,553.75 L291.37,552.56 L291.58,551.01 L291.79,549.12 L292.01,546.96 L292.22,544.60 L292.44,542.12 L292.65,539.59 L292.86,537.09 L293.08,534.69 L293.29,532.47 L293.51,530.49 L293.72,528.84 L293.93,527.59 L294.15,526.77 L294.36,526.09 L294.58,525.50 L294.79,524.98 L295.00,524.52 L295.22,524.09 L295.43,523.69 L295.65,523.29 L295.86,522.88 L296.07,522.45 L296.29,521.98 L296.50,521.43 L296.72,520.78 L296.93,520.05 L297.14,519.29 L297.36,518.54 L297.57,517.85 L297.79,517.27 L298.00,516.83 L298.21,516.60 L298.43,516.58 L298.64,516.68 L298.86,516.88 L299.07,517.17 L299.28,517.53 L299.50,517.97 L299.71,518.48 L299.93,519.04 L300.14,519.65 L300.35,520.30 L300.57,520.99 L300.78,521.70 L301.00,522.43 L301.21,523.23 L301.42,524.36 L301.64,525.83 L301.85,527.54 L302.07,529.43 L302.28,531.42 L302.49,533.44 L302.71,535.42 L302.92,537.28 L303.14,538.95 L303.35,540.35 L303.56,541.41 L303.78,542.11 L303.99,542.70 L304.21,543.23 L304.42,543.72 L304.63,544.17 L304.85,544.58 L305.06,544.96 L305.28,545.31 L305.49,545.65 L305.70,545.97 L305.92,546.28 L306.13,546.59 L306.35,546.91 L306.56,547.24 L306.77,547.58 L306.99,547.95 L307.20,548.37 L307.42,548.82 L307.63,549.26 L307.84,549.68 L308.06,550.04 L308.27,550.30 L308.49,550.45 L308.70,550.44 L308.91,550.17 L309.13,549.67 L309.34,548.95 L309.56,548.04 L309.77,546.97 L309.98,545.76 L310.20,544.45 L310.41,543.05 L310.63,541.59 L310.84,540.11 L311.05,538.61 L311.27,537.14 L311.48,535.72 L311.70,534.36 L311.91,533.11 L312.12,531.82 L312.34,530.36 L312.55,528.78 L312.77,527.12 L312.98,525.42 L313.19,523.72 L313.41,522.07 L313.62,520.50 L313.84,519.05 L314.05,517.78 L314.26,516.72 L314.48,515.91 L314.69,515.39 L314.91,515.21 L315.12,515.26 L315.33,515.41 L315.55,515.67 L315.76,516.05 L315.98,516.56 L316.19,517.21 L316.40,518.00 L316.62,518.95 L316.83,520.06 L317.05,521.34 L317.26,522.80 L317.47,523.69 L317.69,524.65 L317.90,525.67 L318.12,526.74 L318.33,527.86 L318.54,529.02 L318.76,530.21 L318.97,531.43 L319.19,532.67 L319.40,533.92 L319.61,535.18 L319.83,536.45 L320.04,537.70 L320.26,538.94 L320.47,540.16 L320.68,541.40 L320.90,542.69 L321.11,544.02 L321.33,545.37 L321.54,546.75 L321.75,548.13 L321.97,549.51 L322.18,550.88 L322.40,552.22 L322.61,553.52 L322.82,554.78 L323.04,555.99 L323.25,557.12 L323.47,558.18 L323.68,559.15 L323.89,560.10 L324.11,561.09 L324.32,562.10 L324.54,563.09 L324.75,564.04 L324.96,564.91 L325.18,565.69 L325.39,566.35 L325.61,566.85 L325.82,567.17 L326.03,567.29 L326.25,567.25 L326.46,567.12 L326.68,566.93 L326.89,566.67 L327.10,566.34 L327.32,565.95 L327.53,565.52 L327.75,565.03 L327.96,564.51 L328.17,563.95 L328.39,563.35 L328.60,562.74 L328.82,562.10 L329.03,561.45 L329.24,560.80 L329.46,560.13 L329.67,559.48 L329.89,558.81 L330.10,558.06 L330.31,557.23 L330.53,556.30 L330.74,555.31 L330.96,554.25 L331.17,553.13 L331.38,551.96 L331.60,550.75 L331.81,549.50 L332.03,548.23 L332.24,546.93 L332.45,545.63 L332.67,544.33 L332.88,543.03 L333.10,541.74 L333.31,540.47 L333.52,539.24 L333.74,538.04 L333.95,536.88 L334.17,535.78 L334.38,534.74 L334.59,533.70 L334.81,532.60 L335.02,531.45 L335.24,530.27 L335.45,529.06 L335.66,527.85 L335.88,526.64 L336.09,525.44 L336.31,524.26 L336.52,523.13 L336.73,522.05 L336.95,521.03 L337.16,520.08 L337.38,519.22 L337.59,518.46 L337.80,517.81 L338.02,517.28 L338.23,516.89 L338.45,516.65 L338.66,516.56 L338.87,516.59 L339.09,516.66 L339.30,516.77 L339.52,516.92 L339.73,517.11 L339.94,517.33 L340.16,517.59 L340.37,517.88 L340.59,518.20 L340.80,518.54 L341.01,518.90 L341.23,519.29 L341.44,519.69 L341.66,520.11 L341.87,520.54 L342.08,520.98 L342.30,521.43 L342.51,521.89 L342.73,522.34 L342.94,522.80 L343.15,523.29 L343.37,523.83 L343.58,524.43 L343.80,525.08 L344.01,525.77 L344.22,526.51 L344.44,527.30 L344.65,528.12 L344.87,528.98 L345.08,529.88 L345.29,530.81 L345.51,531.76 L345.72,532.74 L345.94,533.75 L346.15,534.78 L346.36,535.83 L346.58,536.89 L346.79,537.96 L347.01,539.05 L347.22,540.14 L347.43,541.24 L347.65,542.35 L347.86,543.49 L348.08,544.68 L348.29,545.91 L348.50,547.18 L348.72,548.49 L348.93,549.83 L349.15,551.21 L349.36,552.63 L349.57,554.08 L349.79,555.56 L350.00,557.07 L350.22,558.61 L350.43,560.17 L350.64,561.77 L350.86,563.39 L351.07,565.03 L351.29,566.69 L351.50,568.37" stroke="#f0855a"/>
<path d="M229.52,548.42 L229.73,548.37 L229.95,548.33 L230.16,548.29 L230.38,548.27 L230.59,548.25 L230.80,548.25 L231.02,548.26 L231.23,548.30 L231.45,548.37 L231.66,548.47 L231.87,548.59 L232.09,548.74 L232.30,548.90 L232.52,549.07 L232.73,549.24 L232.94,549.40 L233.16,549.55 L233.37,549.69 L233.59,549.80 L233.80,549.88 L234.01,549.92 L234.23,549.92 L234.44,549.84 L234.66,549.71 L234.87,549.52 L235.08,549.29 L235.30,549.04 L235.51,548.76 L235.73,548.48 L235.94,548.20 L236.15,547.94 L236.37,547.70 L236.58,547.50 L236.80,547.35 L237.01,547.26 L237.22,547.24 L237.44,547.29 L237.65,547.42 L237.87,547.61 L238.08,547.85 L238.29,548.14 L238.51,548.47 L238.72,548.83 L238.94,549.20 L239.15,549.59 L239.36,549.98 L239.58,550.37 L239.79,550.74 L240.01,551.13 L240.22,551.56 L240.43,552.03 L240.65,552.53 L240.86,553.05 L241.08,553.60 L241.29,554.15 L241.50,554.71 L241.72,555.27 L241.93,555.82 L242.15,556.35 L242.36,556.86 L242.57,557.34 L242.79,557.79 L243.00,558.24 L243.22,558.72 L243.43,559.22 L243.64,559.72 L243.86,560.22 L244.07,560.70 L244.29,561.16 L244.50,561.57 L244.71,561.94 L244.93,562.24 L245.14,562.48 L245.36,562.62 L245.57,562.68 L245.78,562.65 L246.00,562.57 L246.21,562.44 L246.43,562.26 L246.64,562.03 L246.85,561.75 L247.07,561.43 L247.28,561.07 L247.50,560.67 L247.71,560.24 L247.92,559.08 L248.14,556.70 L248.35,553.35" stroke="#c3525a"/>
<path d="M249.42,531.34 L249.64,527.72" stroke="#c3525a"/>
<path d="M250.06,522.71 L250.28,520.43 L250.49,518.18 L250.71,516.04" stroke="#c3525a"/>
<path d="M251.13,512.29 L251.35,510.81 L251.56,509.68" stroke="#c3525a"/>
<path d="M260.12,516.72 L260.34,519.61" stroke="#c3525a"/>
<path d="M260.98,529.70 L261.19,533.16 L261.41,536.48 L261.62,539.55 L261.83,542.26 L262.05,544.50 L262.26,546.49 L262.48,548.47 L262.69,550.42 L262.90,552.26 L263.12,553.97 L263.33,555.49 L263.55,556.77 L263.76,557.76 L263.97,558.42 L264.19,558.74 L264.40,559.01" stroke="#c3525a"/>
<path d="M267.83,557.98 L268.04,557.19 L268.25,556.31 L268.47,555.35" stroke="#c3525a"/>
<path d="M269.97,547.41 L270.18,545.93 L270.39,544.17 L270.61,542.17 L270.82,539.97 L271.04,537.63 L271.25,535.17 L271.46,532.66" stroke="#c3525a"/>
<path d="M280.88,522.48 L281.09,524.61 L281.31,526.81 L281.52,529.06" stroke="#c3525a"/>
<path d="M281.95,533.58 L282.16,535.80 L282.38,537.93 L282.59,539.97 L282.81,541.88 L283.02,543.62 L283.23,545.17 L283.45,546.53 L283.66,547.89 L283.88,549.27 L284.09,550.67 L284.30,552.07 L284.52,553.47 L284.73,554.84 L284.95,556.19 L285.16,557.49 L285.37,558.74 L285.59,559.94 L285.80,561.06 L286.02,562.10 L286.23,563.05 L286.44,563.89 L286.66,564.62 L286.87,565.22 L287.09,565.69 L287.30,566.01 L287.51,566.18 L287.73,566.19 L287.94,566.05 L288.16,565.80 L288.37,565.42 L288.58,564.94 L288.80,564.36 L289.01,563.68 L289.23,562.93 L289.44,562.09 L289.65,561.20 L289.87,560.24 L290.08,559.23 L290.30,558.19 L290.51,557.11 L290.72,556.00 L290.94,554.88 L291.15,553.75 L291.37,552.57 L291.58,551.07 L291.79,549.27 L292.01,547.23 L292.22,544.99 L292.44,542.64" stroke="#c3525a"/>
<path d="M293.08,535.44 L293.29,533.19 L293.51,531.12 L293.72,529.30 L293.93,527.77 L294.15,526.57 L294.36,525.47 L294.58,524.43" stroke="#c3525a"/>
<path d="M311.70,531.28 L311.91,530.13" stroke="#c3525a"/>
<path d="M312.34,527.72 L312.55,526.37 L312.77,524.97 L312.98,523.55 L313.19,522.15 L313.41,520.78 L313.62,519.50 L313.84,518.32 L314.05,517.29 L314.26,516.43 L314.48,515.77 L314.69,515.35 L314.91,515.21 L315.12,515.28 L315.33,515.51 L315.55,515.88 L315.76,516.37 L315.98,516.99 L316.19,517.73 L316.40,518.57 L316.62,519.50 L316.83,520.53 L317.05,521.63 L317.26,522.80 L317.47,523.69 L317.69,524.65 L317.90,525.67 L318.12,526.74 L318.33,527.86 L318.54,529.02 L318.76,530.21 L318.97,531.43 L319.19,532.67 L319.40,533.92 L319.61,535.18 L319.83,536.45 L320.04,537.70 L320.26,538.94 L320.47,540.16 L320.68,541.40 L320.90,542.69 L321.11,544.02 L321.33,545.37 L321.54,546.75 L321.75,548.13 L321.97,549.51 L322.18,550.88 L322.40,552.22 L322.61,553.52 L322.82,554.78 L323.04,555.99 L323.25,557.12 L323.47,558.18 L323.68,559.15 L323.89,560.10 L324.11,561.09 L324.32,562.10 L324.54,563.09 L324.75,564.04 L324.96,564.91 L325.18,565.69 L325.39,566.35 L325.61,566.85 L325.82,567.17 L326.03,567.29 L326.25,567.25 L326.46,567.12 L326.68,566.93 L326.89,566.67 L327.10,566.34 L327.32,565.95 L327.53,565.52 L327.75,565.03 L327.96,564.51 L328.17,563.95 L328.39,563.35 L328.60,562.74 L328.82,562.10 L329.03,561.45 L329.24,560.80 L329.46,560.13 L329.67,559.48 L329.89,558.81 L330.10,558.06 L330.31,557.23 L330.53,556.30 L330.74,555.31 L330.96,554.25 L331.17,553.13 L331.38,551.96 L331.60,550.75 L331.81,549.50 L332.03,548.23 L332.24,546.93 L332.45,545.63 L332.67,544.33 L332.88,543.03 L333.10,541.74 L333.31,540.47 L333.52,539.24 L333.74,538.04 L333.95,536.88 L334.17,535.78 L334.38,534.74 L334.59,533.70 L334.81,532.60 L335.02,531.45 L335.24,530.27 L335.45,529.06 L335.66,527.85 L335.88,526.64 L336.09,525.44 L336.31,524.26 L336.52,523.13 L336.73,522.05 L336.95,521.03 L337.16,520.08 L337.38,519.22 L337.59,518.46 L337.80,517.81 L338.02,517.28 L338.23,516.89 L338.45,516.65 L338.66,516.56 L338.87,516.59 L339.09,516.66 L339.30,516.77 L339.52,516.92 L339.73,517.11 L339.94,517.33 L340.16,517.59 L340.37,517.88 L340.59,518.20 L340.80,518.54 L341.01,518.90 L341.23,519.29 L341.44,519.69 L341.66,520.11 L341.87,520.54 L342.08,520.98 L342.30,521.43 L342.51,521.89 L342.73,522.34 L342.94,522.80 L343.15,523.29 L343.37,523.83 L343.58,524.43 L343.80,525.08 L344.01,525.77 L344.22,526.51 L344.44,527.30 L344.65,528.12 L344.87,528.98 L345.08,529.88 L345.29,530.81 L345.51,531.76 L345.72,532.74 L345.94,533.75 L346.15,534.78 L346.36,535.83 L346.58,536.89 L346.79,537.96 L347.01,539.05 L347.22,540.14 L347.43,541.24 L347.65,542.35 L347.86,543.49 L348.08,544.68 L348.29,545.91 L348.50,547.18 L348.72,548.49 L348.93,549.83 L349.15,551.21 L349.36,552.63 L349.57,554.08 L349.79,555.56 L350.00,557.07 L350.22,558.61 L350.43,560.17 L350.64,561.77 L350.86,563.39 L351.07,565.03 L351.29,566.69 L351.50,568.37" stroke="#c3525a"/>
</g>
<line x1="91.7" y1="619.9" x2="115" y2="619.9" stroke="#8886c8" stroke-width="2.6"/>
<text x="116.9" y="624.1" font-size="11.4" text-anchor="start" fill="#333" >time 0 hr</text>
<line x1="222.1" y1="619.8" x2="245.1" y2="619.8" stroke="#ea8e66" stroke-width="2.6"/>
<text x="247.8" y="624.1" font-size="11.3" text-anchor="start" fill="#333" >time 9 hrs</text>
<clipPath id="sb0"><path transform="translate(302.08,300.00) scale(0.4507,0.4742)" d="M278.6,103 C278.2,95 281,86 290.6,77 C297,72 306,69.5 319.5,67.1 C330,65.8 340,66.4 346.6,68.8 C354,71.6 364,78.5 373,87.4 C379,93.5 385,101 389.8,109.4 C391,111.6 390,113.2 387.8,112.9 C382,112.2 376,110.8 368,109.3 C361,108 355,106.5 350,105.8 C343,104.8 338,104.2 333,104.4 C326,104.8 322,105.6 317.8,107.1 C312,109 308,110.8 304.2,112.5 C299,115 295.5,118.6 290.5,118.4 C284,118 279,111 278.6,103 Z"/></clipPath>
<path transform="translate(302.08,300.00) scale(0.4507,0.4742)" d="M278.6,103 C278.2,95 281,86 290.6,77 C297,72 306,69.5 319.5,67.1 C330,65.8 340,66.4 346.6,68.8 C354,71.6 364,78.5 373,87.4 C379,93.5 385,101 389.8,109.4 C391,111.6 390,113.2 387.8,112.9 C382,112.2 376,110.8 368,109.3 C361,108 355,106.5 350,105.8 C343,104.8 338,104.2 333,104.4 C326,104.8 322,105.6 317.8,107.1 C312,109 308,110.8 304.2,112.5 C299,115 295.5,118.6 290.5,118.4 C284,118 279,111 278.6,103 Z" fill="#fbdfdf"/>
<rect x="425.2" y="330" width="55.2" height="5.600000000000023" fill="#f6c2c2" clip-path="url(#sb0)"/>
<clipPath id="sb1"><path transform="translate(368.81,300.81) scale(0.4542,0.4665)" d="M278.6,103 C278.2,95 281,86 290.6,77 C297,72 306,69.5 319.5,67.1 C330,65.8 340,66.4 346.6,68.8 C354,71.6 364,78.5 373,87.4 C379,93.5 385,101 389.8,109.4 C391,111.6 390,113.2 387.8,112.9 C382,112.2 376,110.8 368,109.3 C361,108 355,106.5 350,105.8 C343,104.8 338,104.2 333,104.4 C326,104.8 322,105.6 317.8,107.1 C312,109 308,110.8 304.2,112.5 C299,115 295.5,118.6 290.5,118.4 C284,118 279,111 278.6,103 Z"/></clipPath>
<path transform="translate(368.81,300.81) scale(0.4542,0.4665)" d="M278.6,103 C278.2,95 281,86 290.6,77 C297,72 306,69.5 319.5,67.1 C330,65.8 340,66.4 346.6,68.8 C354,71.6 364,78.5 373,87.4 C379,93.5 385,101 389.8,109.4 C391,111.6 390,113.2 387.8,112.9 C382,112.2 376,110.8 368,109.3 C361,108 355,106.5 350,105.8 C343,104.8 338,104.2 333,104.4 C326,104.8 322,105.6 317.8,107.1 C312,109 308,110.8 304.2,112.5 C299,115 295.5,118.6 290.5,118.4 C284,118 279,111 278.6,103 Z" fill="#fbdfdf"/>
<rect x="492.9" y="335.8" width="55.6" height="4.0" fill="#f6c2c2" clip-path="url(#sb1)"/>
<clipPath id="sb2"><path transform="translate(440.35,303.52) scale(0.4454,0.4436)" d="M278.6,103 C278.2,95 281,86 290.6,77 C297,72 306,69.5 319.5,67.1 C330,65.8 340,66.4 346.6,68.8 C354,71.6 364,78.5 373,87.4 C379,93.5 385,101 389.8,109.4 C391,111.6 390,113.2 387.8,112.9 C382,112.2 376,110.8 368,109.3 C361,108 355,106.5 350,105.8 C343,104.8 338,104.2 333,104.4 C326,104.8 322,105.6 317.8,107.1 C312,109 308,110.8 304.2,112.5 C299,115 295.5,118.6 290.5,118.4 C284,118 279,111 278.6,103 Z"/></clipPath>
<path transform="translate(440.35,303.52) scale(0.4454,0.4436)" d="M278.6,103 C278.2,95 281,86 290.6,77 C297,72 306,69.5 319.5,67.1 C330,65.8 340,66.4 346.6,68.8 C354,71.6 364,78.5 373,87.4 C379,93.5 385,101 389.8,109.4 C391,111.6 390,113.2 387.8,112.9 C382,112.2 376,110.8 368,109.3 C361,108 355,106.5 350,105.8 C343,104.8 338,104.2 333,104.4 C326,104.8 322,105.6 317.8,107.1 C312,109 308,110.8 304.2,112.5 C299,115 295.5,118.6 290.5,118.4 C284,118 279,111 278.6,103 Z" fill="#fbdfdf"/>
<rect x="562" y="340.4" width="54.6" height="3.8000000000000114" fill="#f6c2c2" clip-path="url(#sb2)"/>
<clipPath id="sb3"><path transform="translate(509.15,304.73) scale(0.4454,0.4283)" d="M278.6,103 C278.2,95 281,86 290.6,77 C297,72 306,69.5 319.5,67.1 C330,65.8 340,66.4 346.6,68.8 C354,71.6 364,78.5 373,87.4 C379,93.5 385,101 389.8,109.4 C391,111.6 390,113.2 387.8,112.9 C382,112.2 376,110.8 368,109.3 C361,108 355,106.5 350,105.8 C343,104.8 338,104.2 333,104.4 C326,104.8 322,105.6 317.8,107.1 C312,109 308,110.8 304.2,112.5 C299,115 295.5,118.6 290.5,118.4 C284,118 279,111 278.6,103 Z"/></clipPath>
<path transform="translate(509.15,304.73) scale(0.4454,0.4283)" d="M278.6,103 C278.2,95 281,86 290.6,77 C297,72 306,69.5 319.5,67.1 C330,65.8 340,66.4 346.6,68.8 C354,71.6 364,78.5 373,87.4 C379,93.5 385,101 389.8,109.4 C391,111.6 390,113.2 387.8,112.9 C382,112.2 376,110.8 368,109.3 C361,108 355,106.5 350,105.8 C343,104.8 338,104.2 333,104.4 C326,104.8 322,105.6 317.8,107.1 C312,109 308,110.8 304.2,112.5 C299,115 295.5,118.6 290.5,118.4 C284,118 279,111 278.6,103 Z" fill="#fbdfdf"/>
<rect x="630.8" y="344.8" width="54.6" height="3.3999999999999773" fill="#f6c2c2" clip-path="url(#sb3)"/>
<line x1="448" y1="325" x2="448" y2="334" stroke="#de6a6e" stroke-width="0.8"/>
<path d="M448,322 L449.6,325.2 L446.4,325.2 Z" fill="#d85a5e"/>
<line x1="515.1" y1="325.8" x2="515.1" y2="333.5" stroke="#de6a6e" stroke-width="0.8"/>
<path d="M515.1,322.8 L516.7,326.0 L513.5,326.0 Z" fill="#d85a5e"/>
<line x1="583.3" y1="325.8" x2="583.3" y2="333.5" stroke="#de6a6e" stroke-width="0.8"/>
<path d="M583.3,322.8 L584.9,326.0 L581.6999999999999,326.0 Z" fill="#d85a5e"/>
<line x1="647.4" y1="326.7" x2="647.4" y2="334" stroke="#de6a6e" stroke-width="0.8"/>
<path d="M647.4,323.7 L649.0,326.9 L645.8,326.9 Z" fill="#d85a5e"/>
<g fill="none" stroke="#d4505a" stroke-width="0.8">
<path d="M515.1,333 C515.5,337 518,338.5 521,338 C523.5,337.5 525,335 525.8,332.5"/>
<path d="M583.3,333 C584,339 587,342.5 591,342.5 C595,342 597.5,337 599.2,333"/>
<path d="M647.4,334 C648.5,342 652,347 656.5,347 C662,346.5 666,340 669.4,335"/>
</g>
<path d="M448,333.5 L450,333.5" stroke="#d0404a" stroke-width="1"/>
<line x1="458" y1="323.7" x2="453.64" y2="328.19" stroke="#6ab04a" stroke-width="0.9"/>
<path d="M451.2,330.7 L452.35,326.94 L454.93,329.44 Z" fill="#6ab04a"/>
<line x1="532.5" y1="325.3" x2="528.27" y2="329.53" stroke="#6ab04a" stroke-width="0.9"/>
<path d="M525.8,332 L527.00,328.25 L529.55,330.80 Z" fill="#6ab04a"/>
<line x1="605.9" y1="325.9" x2="601.62" y2="330.37" stroke="#6ab04a" stroke-width="0.9"/>
<path d="M599.2,332.9 L600.32,329.13 L602.92,331.62 Z" fill="#6ab04a"/>
<line x1="675.5" y1="328.3" x2="671.76" y2="332.41" stroke="#6ab04a" stroke-width="0.9"/>
<path d="M669.4,335 L670.43,331.20 L673.09,333.62 Z" fill="#6ab04a"/>
<text x="388" y="367.5" font-size="11.7" text-anchor="middle" fill="#333" >Spatial</text>
<text x="388" y="380.7" font-size="11.7" text-anchor="middle" fill="#333" >offset</text>
<line x1="408.7" y1="370.5" x2="419.3" y2="370.5" stroke="#222" stroke-width="1"/>
<path d="M422.5,370.5 L418.5,368.5 L418.5,372.5 Z" fill="#222"/>
<text x="448" y="375" font-size="11.7" text-anchor="middle" fill="#333" >On-axis</text>
<text x="516.6" y="375" font-size="11.7" text-anchor="middle" fill="#333" >4 mm</text>
<text x="584" y="375" font-size="11.7" text-anchor="middle" fill="#333" >8 mm</text>
<text x="653.4" y="375" font-size="11.7" text-anchor="middle" fill="#333" >12 mm</text>
<rect x="426.6" y="390.6" width="33.3" height="29.5" fill="#32255f" stroke="#8a8a8a" stroke-width="0.5"/>
<rect x="498.6" y="390.6" width="33.3" height="29.5" fill="#463f8c" stroke="#8a8a8a" stroke-width="0.5"/>
<rect x="570.8" y="390.6" width="33.3" height="29.5" fill="#474a96" stroke="#8a8a8a" stroke-width="0.5"/>
<rect x="643.0" y="390.6" width="33.3" height="29.5" fill="#4c559c" stroke="#8a8a8a" stroke-width="0.5"/>
<rect x="426.6" y="427.3" width="33.3" height="29.5" fill="#72c4d2" stroke="#8a8a8a" stroke-width="0.5"/>
<rect x="498.6" y="427.3" width="33.3" height="29.5" fill="#6cc4dc" stroke="#8a8a8a" stroke-width="0.5"/>
<rect x="570.8" y="427.3" width="33.3" height="29.5" fill="#5470ae" stroke="#8a8a8a" stroke-width="0.5"/>
<rect x="643.0" y="427.3" width="33.3" height="29.5" fill="#76c6d8" stroke="#8a8a8a" stroke-width="0.5"/>
<rect x="426.6" y="464" width="33.3" height="29.5" fill="#f49c2c" stroke="#8a8a8a" stroke-width="0.5"/>
<rect x="498.6" y="464" width="33.3" height="29.5" fill="#c0d636" stroke="#8a8a8a" stroke-width="0.5"/>
<rect x="570.8" y="464" width="33.3" height="29.5" fill="#a0c658" stroke="#8a8a8a" stroke-width="0.5"/>
<rect x="643.0" y="464" width="33.3" height="29.5" fill="#7ec4a4" stroke="#8a8a8a" stroke-width="0.5"/>
<rect x="426.6" y="500.7" width="33.3" height="29.5" fill="#e4372c" stroke="#8a8a8a" stroke-width="0.5"/>
<rect x="498.6" y="500.7" width="33.3" height="29.5" fill="#e33a2a" stroke="#8a8a8a" stroke-width="0.5"/>
<rect x="570.8" y="500.7" width="33.3" height="29.5" fill="#ccda2a" stroke="#8a8a8a" stroke-width="0.5"/>
<rect x="643.0" y="500.7" width="33.3" height="29.5" fill="#9cc65c" stroke="#8a8a8a" stroke-width="0.5"/>
<text x="421.3" y="407.4" font-size="11.7" text-anchor="end" fill="#333" >0 hr</text>
<text x="421.3" y="444.8" font-size="11.7" text-anchor="end" fill="#333" >3 hrs</text>
<text x="421.3" y="482.2" font-size="11.7" text-anchor="end" fill="#333" >6 hrs</text>
<text x="421.3" y="519.7" font-size="11.7" text-anchor="end" fill="#333" >9 hrs</text>
<line x1="392.2" y1="396.7" x2="392.2" y2="528.16" stroke="#8a8a8a" stroke-width="1.1"/>
<path d="M392.2,532 L389.8,527.2 L394.59999999999997,527.2 Z" fill="#222"/>
<text x="0" y="0" font-size="11.7" text-anchor="middle" fill="#333" transform="translate(383.7,464.8) rotate(-90)">Time to trypsin treatment</text>
<rect x="423.3" y="558.2" width="254.5" height="16" fill="url(#gcbar)" stroke="#2a2a2a" stroke-width="1"/>
<line x1="477.6" y1="558.2" x2="477.6" y2="560.2" stroke="#2a2a2a" stroke-width="0.8"/>
<line x1="517.5" y1="558.2" x2="517.5" y2="560.2" stroke="#2a2a2a" stroke-width="0.8"/>
<line x1="557.6" y1="558.2" x2="557.6" y2="560.2" stroke="#2a2a2a" stroke-width="0.8"/>
<line x1="597.1" y1="558.2" x2="597.1" y2="560.2" stroke="#2a2a2a" stroke-width="0.8"/>
<line x1="637.4" y1="558.2" x2="637.4" y2="560.2" stroke="#2a2a2a" stroke-width="0.8"/>
<text x="439.8" y="554.5" font-size="11" text-anchor="middle" fill="#333" >1.4</text>
<text x="479.6" y="554.5" font-size="11" text-anchor="middle" fill="#333" >1.3</text>
<text x="518.7" y="554.5" font-size="11" text-anchor="middle" fill="#333" >1.2</text>
<text x="557.9" y="554.5" font-size="11" text-anchor="middle" fill="#333" >1.1</text>
<text x="597.9" y="554.5" font-size="11" text-anchor="middle" fill="#333" >1</text>
<text x="637.4" y="554.5" font-size="11" text-anchor="middle" fill="#333" >0.8</text>
<text x="441.5" y="586.3" font-size="11.7" text-anchor="middle" fill="#333" >Good</text>
<text x="510" y="586.3" font-size="11.7" text-anchor="middle" fill="#333" >Slight</text>
<text x="510" y="600.5" font-size="11.7" text-anchor="middle" fill="#333" >damage</text>
<text x="579" y="586.3" font-size="11.7" text-anchor="middle" fill="#333" >Moderate</text>
<text x="579" y="600.5" font-size="11.7" text-anchor="middle" fill="#333" >damage</text>
<text x="648" y="586.3" font-size="11.7" text-anchor="middle" fill="#333" >Excess</text>
<text x="648" y="600.5" font-size="11.7" text-anchor="middle" fill="#333" >damage</text>
<rect x="0.6" y="0.8" width="718.6" height="647.4" fill="none" stroke="#262626" stroke-width="1.6"/>
</svg>
</body></html>
